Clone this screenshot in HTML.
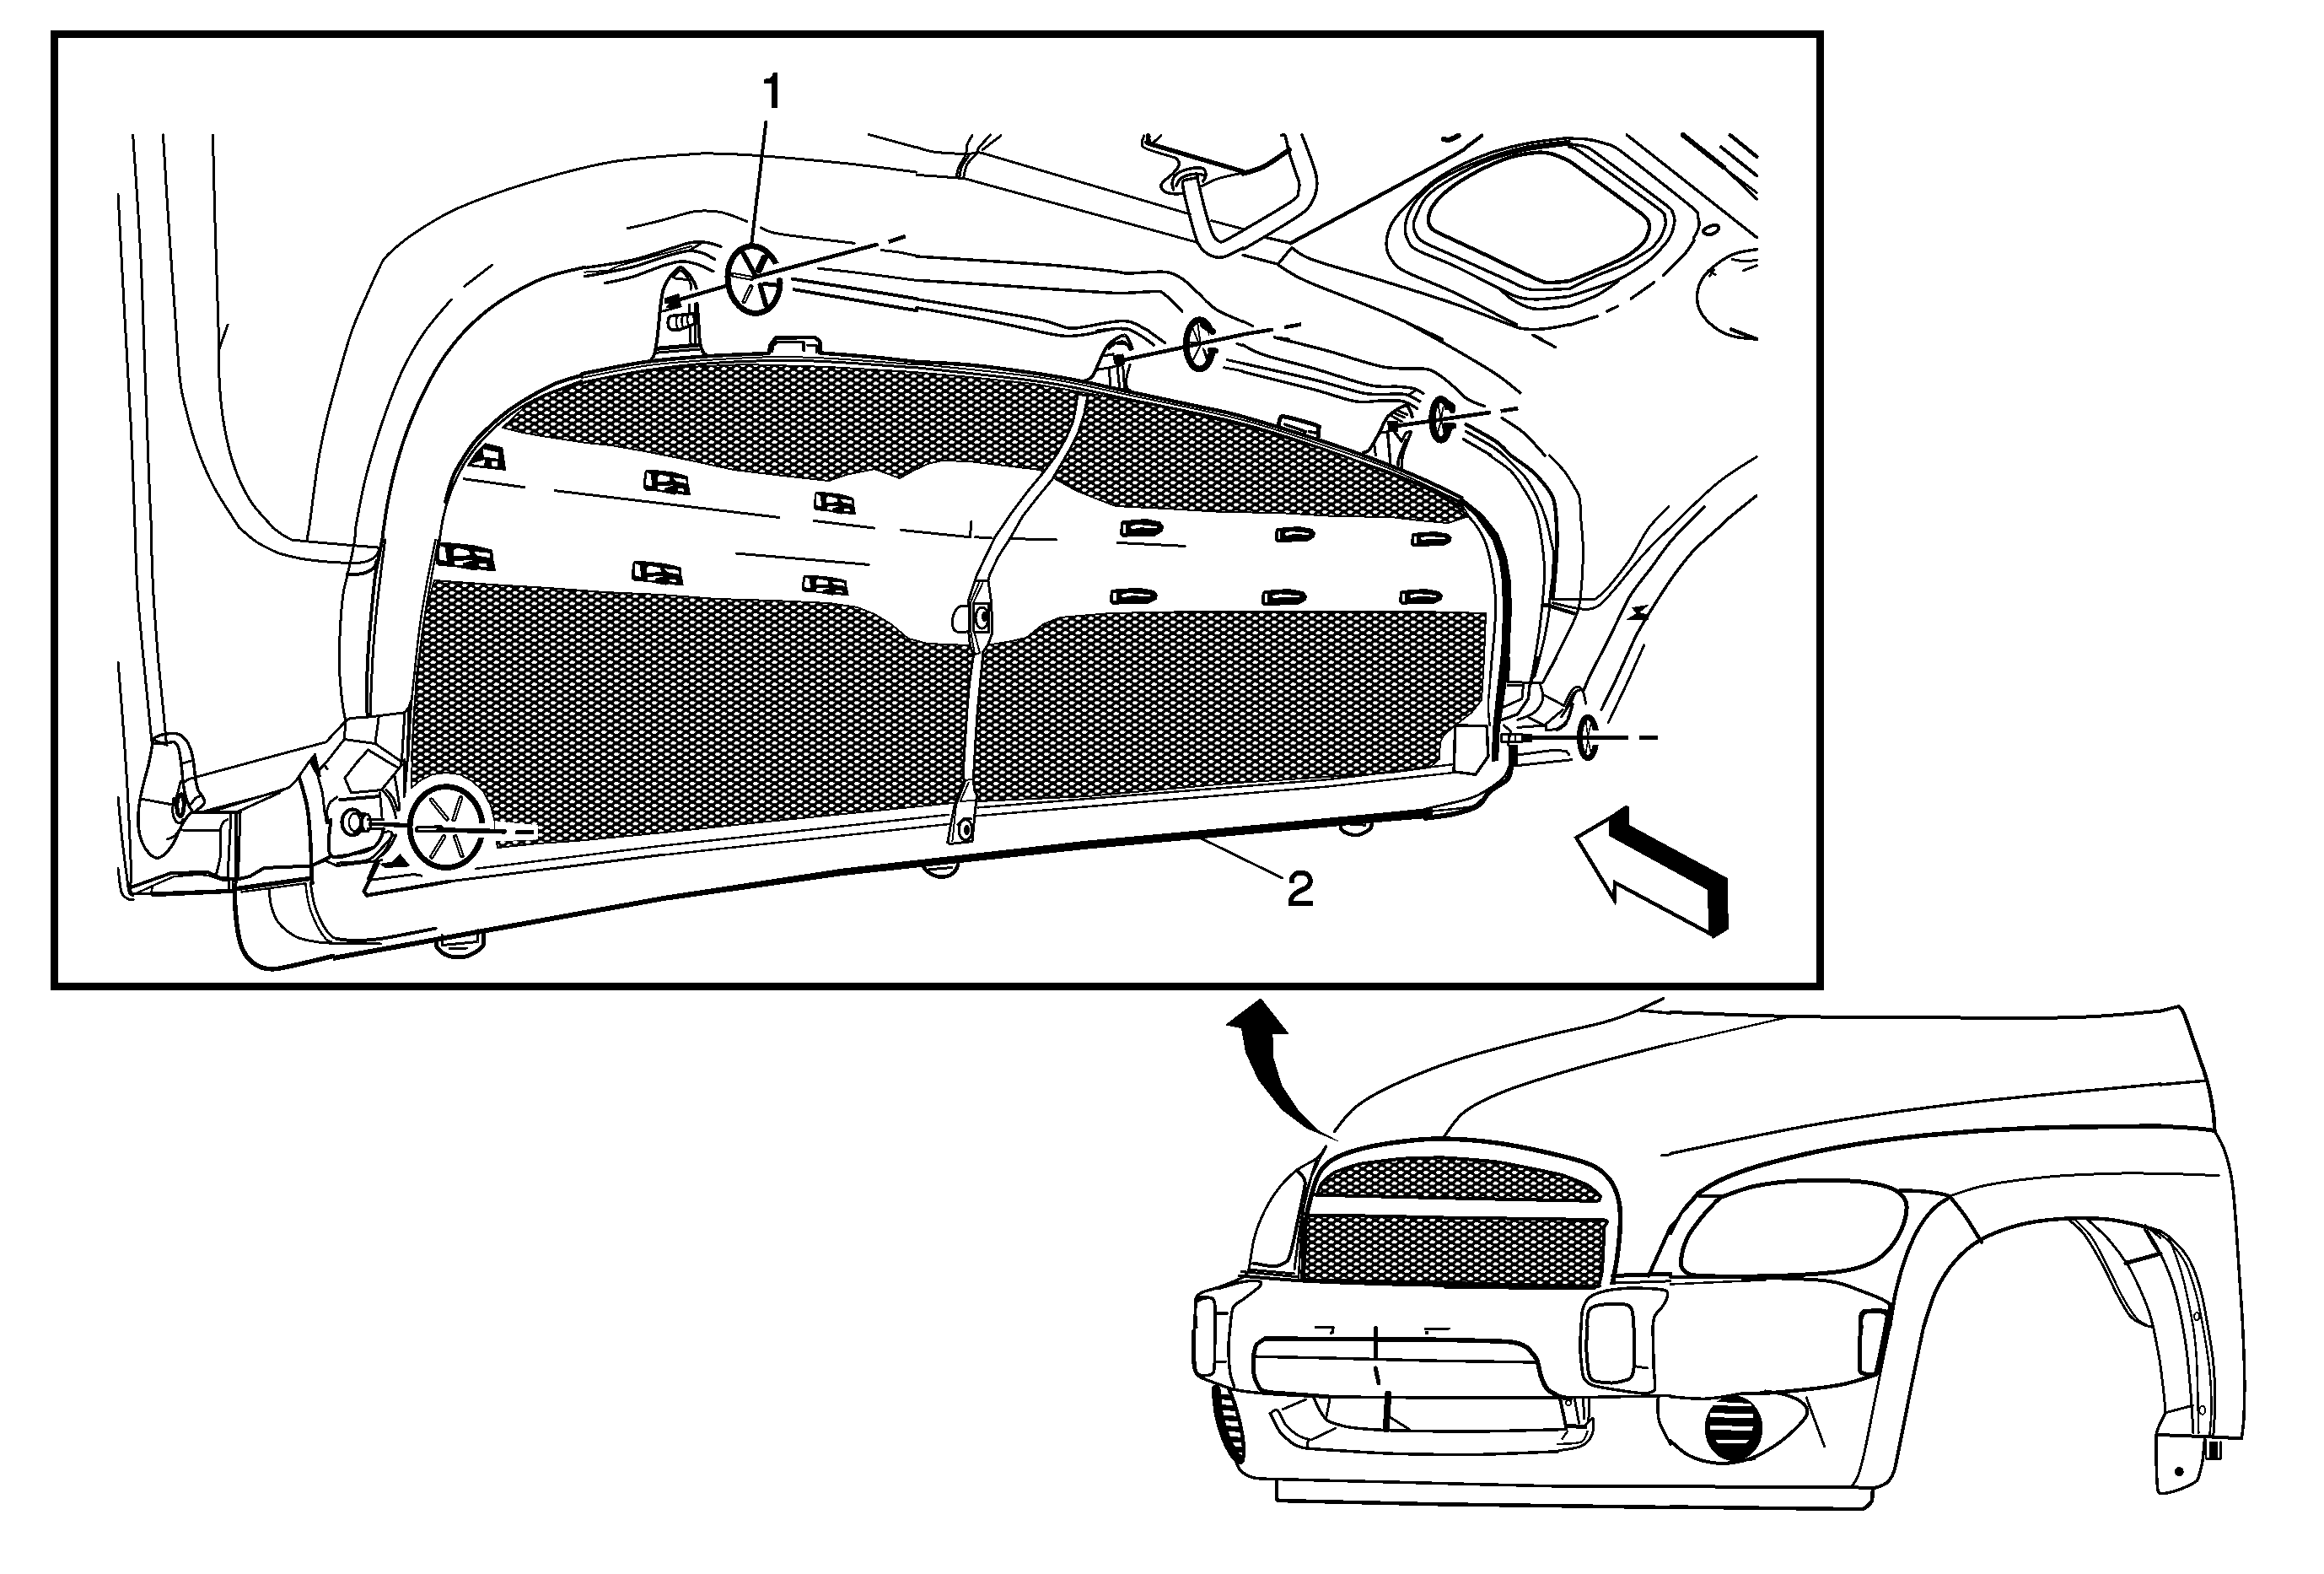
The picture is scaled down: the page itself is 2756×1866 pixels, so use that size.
<!DOCTYPE html>
<html><head><meta charset="utf-8"><title>Radiator grille</title>
<style>html,body{margin:0;padding:0;background:#fff}body{width:2756px;height:1866px;overflow:hidden;font-family:"Liberation Sans",sans-serif}svg{display:block}</style>
</head><body>
<svg width="2756" height="1866" viewBox="0 0 2756 1866" stroke-linecap="round" stroke-linejoin="round" shape-rendering="crispEdges">
<defs>
<pattern id="mesh" width="15" height="8.7" patternUnits="userSpaceOnUse">
<rect width="15" height="8.7" fill="#000"/>
<path d="M0.1 2.2 L2 0.4 L5.4 0.4 L7.3 2.2 L5.4 4 L2 4Z M7.6 6.55 L9.5 4.75 L12.9 4.75 L14.8 6.55 L12.9 8.35 L9.5 8.35Z" fill="#fff"/>
</pattern>
</defs>
<rect width="2756" height="1866" fill="#fff"/>
<rect x="64.5" y="40.5" width="2094" height="1129" fill="none" stroke="#000" stroke-width="9" stroke-linejoin="miter"/>
<path d="M140.0 230.7 C141.3 253.4 144.9 321.9 147.4 366.8 C149.9 411.7 152.9 457.2 155.0 500.2 C157.2 543.2 159.2 604.1 160.0 624.9" fill="none" stroke="#000" stroke-width="3" />
<path d="M157.7 160.0 C159.2 183.4 164.4 254.5 166.7 300.1 C169.0 345.7 170.0 389.0 171.7 433.5 C173.4 477.9 175.4 535.0 176.7 566.9 C178.0 598.8 178.9 615.2 179.4 624.9" fill="none" stroke="#000" stroke-width="3" />
<path d="M193.4 160.0 C194.5 177.8 197.6 229.5 200.1 266.7 C202.6 304.0 206.2 352.9 208.4 383.5 C210.6 414.0 211.5 433.5 213.4 450.2 C215.3 466.8 216.7 470.2 220.1 483.5 C223.4 496.8 227.8 514.6 233.4 530.2 C239.0 545.7 245.1 561.1 253.4 576.9 C261.8 592.7 278.4 616.9 283.4 624.9" fill="none" stroke="#000" stroke-width="3" />
<path d="M252.4 160.0 C252.9 177.8 253.9 226.7 255.1 266.7 C256.3 306.8 258.6 369.6 259.4 400.1 C260.3 430.7 259.1 433.5 260.1 450.2 C261.0 466.8 262.3 483.5 265.1 500.2 C267.9 516.8 271.5 534.6 276.8 550.2 C282.0 565.8 289.0 581.1 296.8 593.5 C304.5 606.0 319.0 619.7 323.4 624.9" fill="none" stroke="#000" stroke-width="3" />
<path d="M270.1 385.1 L259.4 415.1" fill="none" stroke="#000" stroke-width="3" />
<path d="M835.0 181.7 C817.0 183.4 761.6 185.9 727.0 191.7 C692.3 197.5 657.5 207.5 626.9 216.7 C596.3 225.9 565.8 237.0 543.5 246.7 C521.3 256.5 507.4 265.9 493.5 275.1 C479.6 284.2 467.4 294.8 460.2 301.8 C452.9 308.7 454.6 308.1 450.2 316.8 C445.7 325.4 439.1 340.7 433.5 353.4 C427.9 366.2 422.4 377.3 416.8 393.5 C411.3 409.6 405.1 432.4 400.1 450.2 C395.1 467.9 390.7 483.5 386.8 500.2 C382.9 516.8 380.1 529.4 376.8 550.2 C373.5 571.0 368.5 612.4 366.8 624.9" fill="none" stroke="#000" stroke-width="3" />
<path d="M583.6 314.1 L550.9 339.4" fill="none" stroke="#000" stroke-width="3" />
<path d="M535.2 355.1 C529.9 361.5 513.3 379.3 503.5 393.5 C493.8 407.6 485.2 422.4 476.8 440.1 C468.5 457.9 460.7 479.1 453.5 500.2 C446.3 521.3 438.8 546.1 433.5 566.9 C428.2 587.7 423.8 615.2 421.8 624.9" fill="none" stroke="#000" stroke-width="3" />
<path d="M693.6 316.8 C685.3 319.0 660.3 323.4 643.6 330.1 C626.9 336.8 607.5 347.9 593.6 356.8 C579.7 365.7 570.2 374.0 560.2 383.5 C550.2 392.9 541.9 402.4 533.5 413.5 C525.2 424.6 518.0 435.7 510.2 450.2 C502.4 464.6 493.5 483.5 486.9 500.2 C480.2 516.8 474.6 534.6 470.2 550.2 C465.7 565.8 462.7 581.1 460.2 593.5 C457.7 606.0 456.0 619.7 455.2 624.9" fill="none" stroke="#000" stroke-width="4" />
<path d="M596.0 507.0 L610.0 494.0 L623.0 482.0 L640.0 472.0 L657.0 465.0 L700.0 452.0 L750.0 442.0 L817.0 435.0 L883.0 432.0 L983.0 435.0 L1083.0 441.0 L1150.0 447.0 L1225.0 455.0 L1283.0 465.0 L1383.0 483.0 L1483.0 507.0 L1583.0 537.0 L1650.0 560.0 L1700.0 580.0 L1733.0 597.0 L1742.0 612.0 L1717.0 620.0 L1683.0 617.0 L1650.0 613.0 L1583.0 612.0 L1517.0 608.0 L1450.0 607.0 L1383.0 603.0 L1323.0 600.0 L1297.0 590.0 L1277.0 582.0 L1250.0 567.0 L1233.0 557.0 L1200.0 553.0 L1150.0 547.0 L1117.0 546.0 L1100.0 550.0 L1083.0 558.0 L1067.0 567.0 L1037.0 556.0 L1003.0 563.0 L983.0 570.0 L937.0 565.0 L870.0 557.0 L820.0 546.0 L770.0 536.0 L725.0 528.0 L695.0 525.0 L643.0 517.0 L620.0 513.0 L608.0 510.0Z" fill="url(#mesh)" stroke="#000" stroke-width="2" />
<path d="M515.0 688.0 L583.0 693.0 L650.0 697.0 L717.0 702.0 L783.0 705.0 L850.0 710.0 L917.0 712.0 L983.0 715.0 L1017.0 720.0 L1037.0 728.0 L1057.0 740.0 L1077.0 757.0 L1100.0 763.0 L1148.0 765.0 L1170.0 765.0 L1200.0 760.0 L1217.0 756.0 L1237.0 740.0 L1257.0 732.0 L1317.0 727.0 L1417.0 725.0 L1550.0 725.0 L1683.0 725.0 L1762.0 727.0 L1760.0 780.0 L1757.0 830.0 L1745.0 845.0 L1723.0 862.0 L1712.0 872.0 L1708.0 880.0 L1706.7 900.0 L1695.0 910.0 L1650.0 916.0 L1575.0 921.0 L1467.0 928.0 L1290.0 944.0 L1160.0 950.0 L1130.0 952.0 L1000.0 965.0 L900.0 975.0 L787.0 987.0 L683.0 997.0 L638.0 1000.0 L590.0 1005.0 L588.0 993.0 L587.0 975.0 L582.0 955.0 L573.0 938.0 L560.0 926.0 L545.0 918.0 L529.0 916.0 L513.0 918.0 L499.0 925.0 L488.0 934.0 L488.0 925.0 L490.0 866.0 L494.0 800.0 L503.0 733.0Z" fill="url(#mesh)" stroke="#000" stroke-width="2" />
<path d="M516.5 640.0 C514.8 648.3 509.6 673.3 506.5 690.0 C503.5 706.6 500.5 723.3 498.2 739.9 C495.8 756.6 494.2 773.2 492.4 789.9 C490.6 806.5 488.8 821.1 487.4 839.8 C486.0 858.5 484.6 891.7 484.0 902.1" fill="none" stroke="#000" stroke-width="2.5" />
<path d="M519.8 640.0 C518.3 648.3 513.6 673.3 510.7 690.0 C507.8 706.6 504.7 723.3 502.4 739.9 C500.0 756.6 498.3 773.2 496.5 789.9 C494.7 806.5 492.9 821.1 491.5 839.8 C490.1 858.5 488.8 891.7 488.2 902.1" fill="none" stroke="#000" stroke-width="2.5" />
<path d="M420.8 640.0 C420.1 643.6 418.1 654.4 416.6 661.6 C415.1 668.9 413.3 675.8 411.6 683.3 C409.9 690.8 408.0 695.8 406.6 706.6 C405.2 717.4 404.0 734.4 403.3 748.2 C402.6 762.1 402.0 776.0 402.4 789.9 C402.9 803.7 404.5 820.7 405.8 831.5 C407.0 842.3 409.2 850.9 409.9 854.8" fill="none" stroke="#000" stroke-width="3" />
<path d="M453.2 640.0 C452.5 643.6 450.5 654.4 449.1 661.6 C447.7 668.9 446.3 673.0 444.9 683.3 C443.5 693.6 442.1 708.3 440.7 723.3 C439.4 738.2 437.5 756.6 436.6 773.2 C435.6 789.9 435.0 810.4 434.9 823.2 C434.8 835.9 435.6 845.4 435.7 849.8" fill="none" stroke="#000" stroke-width="4" />
<path d="M456.6 640.0 C455.9 645.6 454.1 659.4 452.4 673.3 C450.7 687.2 448.2 706.6 446.6 723.3 C444.9 739.9 443.5 756.6 442.4 773.2 C441.3 789.9 440.5 810.4 439.9 823.2 C439.4 835.9 439.2 845.4 439.1 849.8" fill="none" stroke="#000" stroke-width="3" />
<path d="M345.8 640.0 C351.5 640.6 362.6 641.8 380.0 643.3 C397.3 644.9 438.2 648.2 449.9 649.2" fill="none" stroke="#000" stroke-width="3" />
<path d="M330.0 655.8 C335.6 657.1 348.9 661.4 363.3 663.3 C377.7 665.3 404.4 667.2 416.6 667.5 C428.8 667.8 431.6 666.5 436.6 665.0 C441.6 663.5 444.3 660.8 446.6 658.3 C448.8 655.8 449.3 651.4 449.9 650.0" fill="none" stroke="#000" stroke-width="3" />
<path d="M411.6 680.8 C414.6 680.7 424.6 681.2 429.9 680.0 C435.2 678.7 440.5 675.8 443.2 673.3 C446.0 670.8 446.0 666.4 446.6 665.0" fill="none" stroke="#000" stroke-width="4" />
<path d="M409.9 854.8 L414.9 851.5 L439.9 849.8 L479.9 844.8 L484.9 838.2 L487.4 831.5" fill="none" stroke="#000" stroke-width="3" />
<path d="M409.9 854.8 L386.6 879.8 L330.0 894.8" fill="none" stroke="#000" stroke-width="3" />
<path d="M409.9 854.8 L408.3 876.5 L388.3 902.1" fill="none" stroke="#000" stroke-width="3" />
<path d="M408.3 876.5 L444.9 881.5 L474.9 902.1" fill="none" stroke="#000" stroke-width="3" />
<path d="M424.9 902.1 L436.6 889.0 L458.2 902.1" fill="none" stroke="#000" stroke-width="3" />
<path d="M449.1 850.7 L444.9 881.5" fill="none" stroke="#000" stroke-width="3" />
<path d="M479.9 844.8 L476.5 902.1" fill="none" stroke="#000" stroke-width="3" />
<path d="M484.9 839.8 L483.2 902.1" fill="none" stroke="#000" stroke-width="3" />
<path d="M140.0 785.0 C140.8 795.3 143.2 822.5 145.0 846.6 C146.8 870.8 149.3 904.9 150.8 929.9 C152.3 954.8 153.3 977.8 154.1 996.5 C155.0 1015.2 155.5 1034.5 155.8 1042.1" fill="none" stroke="#000" stroke-width="3" />
<path d="M170.0 780.0 C170.8 788.3 173.3 813.6 175.0 830.0 C176.6 846.3 179.1 870.2 179.9 878.2" fill="none" stroke="#000" stroke-width="3" />
<path d="M187.4 780.0 C188.3 788.3 190.8 813.0 192.4 830.0 C194.1 846.9 196.6 873.0 197.4 881.6" fill="none" stroke="#000" stroke-width="3" />
<path d="M140.0 944.9 C140.8 953.5 143.2 980.3 145.0 996.5 C146.8 1012.7 149.8 1034.5 150.8 1042.1" fill="none" stroke="#000" stroke-width="3" />
<path d="M140.0 1029.8 L141.6 1042.1" fill="none" stroke="#000" stroke-width="3" />
<path d="M180.8 875.8 C182.9 874.9 188.4 871.7 193.3 870.8 C198.1 869.8 205.5 869.0 209.9 869.9 C214.4 870.9 217.1 873.3 219.9 876.6 C222.7 879.9 224.9 884.9 226.6 889.9 C228.2 894.9 229.1 901.3 229.9 906.6 C230.7 911.8 230.7 916.5 231.6 921.5 C232.4 926.5 233.4 932.6 234.9 936.5 C236.4 940.4 239.5 942.4 240.7 944.9 C242.0 947.4 242.7 949.7 242.4 951.5 C242.1 953.3 240.9 953.9 239.1 955.7 C237.3 957.5 232.8 961.2 231.6 962.3" fill="none" stroke="#000" stroke-width="3.5" />
<path d="M180.8 881.6 C183.7 881.4 194.0 881.0 198.3 880.7 C202.6 880.5 204.4 878.9 206.6 879.9 C208.8 880.9 210.3 883.2 211.6 886.6 C212.8 889.9 213.4 895.5 214.1 899.9 C214.8 904.3 215.2 908.2 215.8 913.2 C216.3 918.2 216.7 924.9 217.4 929.9 C218.1 934.9 218.8 939.0 219.9 943.2 C221.0 947.4 222.7 951.7 224.1 954.8 C225.5 958.0 227.5 961.1 228.2 962.3" fill="none" stroke="#000" stroke-width="3.5" />
<path d="M180.8 875.8 C180.8 876.7 181.5 876.7 180.8 881.6 C180.1 886.4 178.4 896.8 176.6 904.9 C174.8 912.9 171.9 921.5 170.0 929.9 C168.0 938.2 165.9 946.5 165.0 954.8 C164.0 963.2 163.6 972.6 164.1 979.8 C164.7 987.0 166.2 992.9 168.3 998.1 C170.4 1003.4 173.6 1008.3 176.6 1011.5 C179.7 1014.7 183.3 1017.3 186.6 1017.3 C189.9 1017.3 193.3 1014.7 196.6 1011.5 C199.9 1008.3 203.5 1003.4 206.6 998.1 C209.6 992.9 212.1 985.1 214.9 979.8 C217.7 974.6 221.0 969.4 223.2 966.5 C225.5 963.6 227.4 963.0 228.2 962.3" fill="none" stroke="#000" stroke-width="3.5" />
<path d="M180.8 876.6 L198.3 883.6" fill="none" stroke="#000" stroke-width="3" />
<path d="M216.6 904.9 L228.2 901.6" fill="none" stroke="#000" stroke-width="3" />
<path d="M217.4 928.2 C218.4 927.5 220.9 925.2 223.2 924.0 C225.6 922.9 230.2 922.0 231.6 921.5" fill="none" stroke="#000" stroke-width="3" />
<path d="M169.1 947.4 L204.9 954.0" fill="none" stroke="#000" stroke-width="3" />
<path d="M211.6 944.9 C212.6 942.8 214.6 941.0 215.8 942.4 C216.9 943.7 218.2 949.2 218.2 953.2 C218.2 957.2 216.9 964.4 215.8 966.5 C214.6 968.6 212.6 967.6 211.6 965.7 C210.6 963.7 209.9 958.3 209.9 954.8 C209.9 951.4 210.6 946.9 211.6 944.9Z" fill="none" stroke="#000" stroke-width="5" />
<path d="M205.8 946.5 C205.6 949.3 204.5 958.7 204.9 963.2 C205.3 967.6 206.9 971.1 208.3 973.2 C209.6 975.2 211.7 975.9 213.3 975.7 C214.8 975.4 216.7 972.2 217.4 971.5" fill="none" stroke="#000" stroke-width="3" />
<path d="M226.6 953.2 C227.4 952.1 229.9 948.0 231.6 946.5 C233.2 945.0 235.7 944.4 236.6 944.0" fill="none" stroke="#000" stroke-width="3" />
<path d="M198.3 994.8 C199.7 994.3 204.1 993.4 206.6 991.5 C209.1 989.5 212.1 984.5 213.3 983.2" fill="none" stroke="#000" stroke-width="3" />
<path d="M214.1 926.5 C213.5 928.8 212.0 935.4 210.8 939.9 C209.5 944.3 207.3 951.0 206.6 953.2" fill="none" stroke="#000" stroke-width="3" />
<path d="M231.6 921.5 L329.8 894.9" fill="none" stroke="#000" stroke-width="3" />
<path d="M243.2 961.5 L331.5 938.2 L343.1 933.2 L351.5 924.9 L366.5 903.2 L373.9 894.1" fill="none" stroke="#000" stroke-width="3" />
<path d="M253.2 961.5 L336.5 935.7" fill="none" stroke="#000" stroke-width="3" />
<path d="M278.2 964.0 L331.5 939.9" fill="none" stroke="#000" stroke-width="3" />
<path d="M227.4 962.7 L284.9 963.2" fill="none" stroke="#000" stroke-width="4" />
<path d="M216.6 984.0 L260.7 984.0" fill="none" stroke="#000" stroke-width="3" />
<path d="M269.9 971.5 C269.0 972.1 266.3 972.8 264.9 974.8 C263.5 976.9 262.1 977.6 261.5 984.0 C261.0 990.4 262.4 1004.4 261.5 1013.1 C260.7 1021.9 257.4 1032.6 256.5 1036.4" fill="none" stroke="#000" stroke-width="3" />
<path d="M274.0 964.8 L269.9 1042.1" fill="none" stroke="#000" stroke-width="3" />
<path d="M279.9 964.0 L279.9 1042.1" fill="none" stroke="#000" stroke-width="4" />
<path d="M284.9 963.2 L282.4 1042.1" fill="none" stroke="#000" stroke-width="3" />
<path d="M354.8 921.5 C355.6 924.3 358.1 931.8 359.8 938.2 C361.5 944.6 363.4 950.1 364.8 959.8 C366.2 969.6 367.3 982.8 368.1 996.5 C369.0 1010.2 369.5 1034.5 369.8 1042.1" fill="none" stroke="#000" stroke-width="4.5" />
<path d="M367.3 902.4 L373.9 894.9 L379.8 919.9 L377.3 921.5Z" fill="#000" stroke="#000" stroke-width="2" />
<path d="M377.3 921.5 C378.1 924.6 381.0 933.1 382.3 939.9 C383.5 946.7 384.4 958.6 384.8 962.3" fill="none" stroke="#000" stroke-width="3" />
<path d="M378.1 913.2 L388.1 902.4" fill="none" stroke="#000" stroke-width="3" />
<path d="M384.8 907.4 L388.1 911.6" fill="none" stroke="#000" stroke-width="3" />
<path d="M388.1 959.8 C388.7 958.5 389.5 954.0 391.4 951.5 C393.4 949.0 398.4 946.0 399.8 944.9" fill="none" stroke="#000" stroke-width="3" />
<path d="M386.4 962.3 L388.1 974.8" fill="none" stroke="#000" stroke-width="5" />
<path d="M474.7 902.1 L476.4 906.6 L471.4 913.2 L453.0 935.7" fill="none" stroke="#000" stroke-width="3" />
<path d="M424.7 902.1 L408.9 922.4 L416.4 939.9 L453.0 936.5" fill="none" stroke="#000" stroke-width="3" />
<path d="M458.0 902.1 L473.0 910.7" fill="none" stroke="#000" stroke-width="3" />
<path d="M476.4 902.1 L475.5 906.6" fill="none" stroke="#000" stroke-width="3" />
<path d="M483.0 902.1 L479.7 944.0" fill="none" stroke="#000" stroke-width="3" />
<path d="M468.0 919.9 C468.6 923.2 470.4 933.5 471.4 939.9 C472.3 946.2 473.7 954.7 473.9 958.2 C474.0 961.6 472.5 960.3 472.2 960.7" fill="none" stroke="#000" stroke-width="3" />
<path d="M453.0 936.5 C454.4 938.2 459.0 942.6 461.4 946.5 C463.7 950.4 465.8 956.0 467.2 959.8 C468.6 963.7 469.3 968.2 469.7 969.8" fill="none" stroke="#000" stroke-width="3" />
<path d="M458.0 936.5 C459.4 938.2 464.1 942.5 466.4 946.5 C468.6 950.5 470.5 958.3 471.4 960.7" fill="none" stroke="#000" stroke-width="3" />
<path d="M403.1 948.2 L450.5 944.0" fill="none" stroke="#000" stroke-width="4" />
<path d="M450.5 939.9 L453.0 968.2" fill="none" stroke="#000" stroke-width="3" />
<path d="M392.3 971.5 C392.4 978.7 385.7 1009.0 393.1 1014.8 C400.5 1020.6 427.5 1008.7 436.4 1006.5 C445.3 1004.3 443.6 1004.3 446.4 1001.5 C449.2 998.7 451.7 993.0 453.0 989.8 C454.4 986.6 454.4 983.6 454.7 982.3" fill="none" stroke="#000" stroke-width="4" />
<path d="M393.1 1014.8 L369.8 1026.5 L313.2 1029.0 L296.5 1038.9 L283.2 1042.1" fill="none" stroke="#000" stroke-width="4" />
<g transform="translate(120,780) scale(0.16652)" fill="none" stroke="#000">
<ellipse cx="1790" cy="1170" rx="75" ry="92" stroke-width="26" fill="#fff"/>
<ellipse cx="1805" cy="1170" rx="40" ry="62" stroke-width="14"/>
<path d="M1800 1105 L1900 1112 M1800 1238 L1900 1235" stroke-width="18"/>
<ellipse cx="1890" cy="1175" rx="32" ry="60" stroke-width="18" fill="#fff"/>
<path d="M1900 1150 L2010 1150 M1900 1215 L2010 1215" stroke-width="18"/>
<rect x="1905" y="1172" width="105" height="26" fill="#000" stroke="none"/>
<path d="M2020 1185 L2180 1195" stroke-width="30"/>
<path d="M2130 1395 L2200 1480 L2030 1490Z" fill="#000" stroke="none"/>
</g>
<path d="M454.7 986.5 C456.4 986.6 463.9 984.5 464.7 987.3 C465.5 990.1 461.7 998.8 459.7 1003.1 C457.8 1007.4 455.3 1010.4 453.0 1013.1 C450.8 1015.9 449.2 1015.0 446.4 1019.8 C443.6 1024.6 438.1 1038.4 436.4 1042.1" fill="none" stroke="#000" stroke-width="3" />
<path d="M469.7 989.8 C468.6 992.0 465.5 999.3 463.0 1003.1 C460.5 1007.0 456.1 1011.5 454.7 1013.1" fill="none" stroke="#000" stroke-width="3" />
<path d="M369.8 1026.5 L386.4 1019.8 L393.1 1014.8" fill="none" stroke="#000" stroke-width="3" />
<path d="M386.4 1020.6 L399.8 1026.5 L453.0 1019.8" fill="none" stroke="#000" stroke-width="3" />
<g transform="translate(400,900) scale(0.16652)" fill="none" stroke="#000">
<path d="M1125 440 L1430 470 L1430 572 L1125 585Z" fill="#fff" stroke="none"/>
<ellipse cx="775" cy="484" rx="258" ry="288" stroke-width="40"/>
<path d="M1000 458 L1090 458 L1090 560 L1000 560Z" fill="#fff" stroke="none"/>
<path d="M670 290 L780 425 M880 275 L830 430 M760 552 L672 695 M840 552 L888 688" stroke-width="34"/>
<path d="M672 292 L778 423 M879 280 L832 426 M757 557 L675 690 M843 557 L885 683" stroke-width="8" stroke="#fff"/>
<path d="M575 500 L1190 515" stroke-width="34"/>
<path d="M575 500 L735 495" stroke-width="50"/>
<path d="M585 500 L700 497" stroke-width="14" stroke="#fff"/>
<path d="M1270 520 L1400 522" stroke-width="30" stroke-linecap="butt"/>
<path d="M340 465 L490 470" stroke-width="30" stroke-linecap="butt"/>
<path d="M450 680 L510 765 L340 775 L300 745 L440 722Z" fill="#000" stroke="none"/>
</g>
<path d="M564.0 1029.9 L787.0 1002.4" fill="none" stroke="#000" stroke-width="2.5" />
<path d="M448.3 1023.2 L431.6 1056.5 L435.0 1061.5 L533.2 1044.9 L787.0 1013.2" fill="none" stroke="#000" stroke-width="3" />
<path d="M448.3 1023.2 L431.6 1056.5 L435.0 1061.5 L533.2 1044.9" fill="none" stroke="#000" stroke-width="4.5" />
<path d="M440.0 1043.2 L490.8 1036.5 L499.9 1038.2" fill="none" stroke="#000" stroke-width="3" />
<path d="M400.0 1113.1 C402.8 1113.4 408.3 1114.8 416.7 1114.8 C425.0 1114.8 433.3 1115.5 450.0 1113.1 C466.6 1110.8 505.5 1102.7 516.6 1100.7" fill="none" stroke="#000" stroke-width="4" />
<path d="M517.4 1114.0 C517.5 1115.5 515.9 1119.9 518.2 1123.1 C520.6 1126.3 526.3 1131.2 531.6 1133.1 C536.8 1135.0 544.3 1135.3 549.9 1134.5 C555.4 1133.6 561.0 1130.6 564.9 1128.1 C568.7 1125.7 571.7 1124.0 573.2 1119.8 C574.6 1115.6 573.5 1105.9 573.5 1103.2" fill="none" stroke="#000" stroke-width="5" />
<path d="M524.1 1108.2 L524.1 1120.6 L566.5 1116.5 L566.9 1102.3" fill="none" stroke="#000" stroke-width="3" />
<path d="M533.2 1124.5 L554.0 1124.0" fill="none" stroke="#000" stroke-width="3" />
<path d="M479.9 900.0 L479.1 945.0" fill="none" stroke="#000" stroke-width="3" />
<path d="M400.0 1014.9 C405.6 1014.1 425.3 1012.4 433.3 1009.9 C441.4 1007.4 444.7 1003.8 448.3 999.9 C451.9 996.0 453.8 988.8 455.0 986.6" fill="none" stroke="#000" stroke-width="3" />
<path d="M400.0 1023.2 C405.8 1022.7 426.6 1022.4 435.0 1019.9 C443.3 1017.4 444.7 1013.2 450.0 1008.2 C455.2 1003.2 463.8 993.0 466.6 989.9" fill="none" stroke="#000" stroke-width="3" />
<path d="M787.0 1002.5 L1125.1 965.8" fill="none" stroke="#000" stroke-width="2.5" />
<path d="M787.0 1013.5 L1126.8 976.8" fill="none" stroke="#000" stroke-width="2.5" />
<path d="M1159.5 957.4 L1575.0 924.1 L1723.4 906.1" fill="none" stroke="#000" stroke-width="2.5" />
<path d="M1156.2 967.4 L1575.0 932.4 L1747.1 913.4" fill="none" stroke="#000" stroke-width="2.5" />
<path d="M1093.5 1025.1 C1094.6 1026.5 1096.8 1031.1 1100.1 1033.5 C1103.5 1035.9 1109.0 1038.8 1113.5 1039.5 C1117.9 1040.1 1123.2 1039.3 1126.8 1037.5 C1130.4 1035.6 1133.6 1031.3 1135.1 1028.5 C1136.7 1025.7 1136.0 1022.1 1136.1 1020.8" fill="none" stroke="#000" stroke-width="4.5" />
<path d="M1101.8 1030.8 L1128.5 1028.5" fill="none" stroke="#000" stroke-width="3" />
<path d="M1423.6 993.5 L1520.3 1040.8" fill="none" stroke="#000" stroke-width="3" />
<path d="M1278.0 467.5 L1276.0 481.0 L1272.5 500.0 L1263.8 520.0 L1252.5 540.0 L1237.5 560.0 L1220.0 581.0 L1200.0 607.5 L1180.0 636.8 L1168.8 660.0 L1158.8 681.0 L1156.0 688.8 L1148.0 713.8 L1148.8 750.0 L1150.6 766.0 L1154.4 777.0 L1149.5 810.0 L1147.0 840.0 L1144.5 877.5 L1142.0 921.0 L1143.8 925.0 L1132.5 952.5 L1127.5 977.5 L1123.8 998.8 L1126.0 1000.6 L1153.0 997.5 L1156.0 965.0 L1158.5 942.5 L1156.0 937.5 L1154.5 927.5 L1154.5 921.0 L1157.0 877.5 L1159.5 840.0 L1162.5 810.0 L1166.0 772.5 L1171.9 763.8 L1176.9 750.0 L1175.6 713.8 L1171.9 688.8 L1173.8 681.0 L1183.8 660.0 L1198.8 636.8 L1212.5 612.5 L1230.0 590.0 L1247.5 568.8 L1267.5 535.0 L1278.8 512.5 L1286.0 490.0 L1290.0 468.8Z" fill="#fff" stroke="#000" stroke-width="3" />
<path d="M1147.5 718.8 C1146.0 718.8 1141.3 717.8 1138.8 718.8 C1136.3 719.8 1134.1 722.3 1132.5 725.0 C1130.9 727.7 1129.7 731.7 1129.4 735.0 C1129.1 738.3 1129.5 742.6 1130.6 745.0 C1131.7 747.4 1133.1 748.8 1136.0 749.4 C1138.9 750.0 1146.0 748.9 1148.0 748.8" fill="#fff" stroke="#000" stroke-width="3" />
<path d="M1154.4 715.0 L1172.5 715.0 L1173.0 750.0 L1155.0 749.4Z" fill="none" stroke="#000" stroke-width="3" />
<ellipse cx="1164.5" cy="732.5" rx="7.5" ry="12.5" fill="none" stroke="#000" stroke-width="3"/>
<ellipse cx="1167.5" cy="731" rx="3.5" ry="6" fill="#000"/>
<path d="M1156.0 688.8 L1172.0 688.8" fill="none" stroke="#000" stroke-width="3" />
<path d="M1161.0 691.0 L1150.6 715.0" fill="none" stroke="#000" stroke-width="2" />
<path d="M1165.6 691.0 L1154.0 715.0" fill="none" stroke="#000" stroke-width="2" />
<path d="M1151.0 715.0 L1151.5 750.0 L1156.0 776.0 L1162.0 774.0 L1155.6 750.0" fill="none" stroke="#000" stroke-width="2" />
<path d="M1143.8 925.0 L1153.0 924.0" fill="none" stroke="#000" stroke-width="2" />
<path d="M1148.8 927.5 L1138.8 950.0 L1155.6 948.8" fill="none" stroke="#000" stroke-width="2" />
<path d="M1145.0 926.0 L1133.8 955.0 L1129.4 997.5" fill="none" stroke="#000" stroke-width="2" />
<ellipse cx="1145" cy="983.8" rx="8" ry="12" fill="none" stroke="#000" stroke-width="3"/>
<ellipse cx="1146.5" cy="984" rx="3.5" ry="6" fill="#000"/>
<path d="M1135.6 977.5 L1142.5 970.6 L1152.0 970.6" fill="none" stroke="#000" stroke-width="2.5" />
<path d="M1733.3 590.0 L1758.2 609.9 L1776.6 633.3 L1786.5 659.9 L1791.5 689.9 L1792.4 723.2 L1790.7 756.5 L1789.0 802.1 L1778.2 802.1 L1781.6 756.5 L1782.4 723.2 L1781.6 689.9 L1778.2 664.9 L1769.9 639.9 L1749.9 611.6 L1729.9 593.3Z" fill="#000" stroke="#000" stroke-width="1" />
<path d="M1650.0 562.5 C1656.9 565.3 1678.3 572.5 1691.6 579.1 C1705.0 585.8 1720.5 595.6 1729.9 602.4 C1739.4 609.2 1743.0 613.1 1748.2 619.9 C1753.5 626.7 1758.1 634.4 1761.6 643.2 C1765.0 652.1 1767.1 662.7 1769.1 673.2 C1771.0 683.8 1772.6 695.4 1773.2 706.5 C1773.9 717.6 1773.4 728.7 1772.9 739.8 C1772.3 750.9 1770.8 762.8 1769.9 773.1 C1769.0 783.5 1767.8 797.3 1767.4 802.1" fill="none" stroke="#000" stroke-width="3" />
<path d="M1766.6 540.0 C1770.7 543.1 1784.6 551.4 1791.5 558.3 C1798.5 565.3 1803.2 573.6 1808.2 581.6 C1813.2 589.7 1818.2 596.9 1821.5 606.6 C1824.8 616.3 1826.5 628.8 1828.2 639.9 C1829.8 651.0 1831.1 663.5 1831.5 673.2 C1831.9 682.9 1831.5 687.1 1830.7 698.2 C1829.8 709.3 1828.0 727.3 1826.5 739.8 C1825.0 752.3 1823.2 762.8 1821.5 773.1 C1819.9 783.5 1817.4 797.3 1816.5 802.1" fill="none" stroke="#000" stroke-width="3" />
<path d="M1783.2 540.0 C1787.4 544.2 1801.5 556.7 1808.2 565.0 C1814.9 573.3 1819.0 581.6 1823.2 590.0 C1827.3 598.3 1830.4 606.1 1833.2 614.9 C1836.0 623.8 1838.3 636.9 1839.8 643.2 C1841.4 649.6 1841.9 651.6 1842.3 653.2" fill="none" stroke="#000" stroke-width="3" />
<path d="M1842.3 653.2 C1842.2 658.0 1842.2 672.7 1841.5 681.5 C1840.8 690.4 1838.9 699.6 1838.2 706.5 C1837.5 713.5 1838.4 714.8 1837.3 723.2 C1836.2 731.5 1833.9 745.4 1831.5 756.5 C1829.2 767.6 1825.1 782.2 1823.2 789.8 C1821.2 797.4 1820.4 800.1 1819.9 802.1" fill="none" stroke="#000" stroke-width="3" />
<path d="M1791.5 540.0 C1795.7 543.1 1809.6 552.2 1816.5 558.3 C1823.5 564.4 1829.0 571.4 1833.2 576.6 C1837.3 581.9 1839.6 585.0 1841.5 590.0 C1843.4 595.0 1844.0 598.3 1844.8 606.6 C1845.7 614.9 1846.5 628.8 1846.5 639.9 C1846.5 651.0 1845.7 661.6 1844.8 673.2 C1844.0 684.9 1842.1 703.7 1841.5 709.9" fill="none" stroke="#000" stroke-width="4.5" />
<path d="M1837.3 540.0 C1840.3 543.1 1850.0 552.2 1854.8 558.3 C1859.7 564.4 1863.4 571.4 1866.5 576.6 C1869.5 581.9 1871.8 583.6 1873.1 590.0 C1874.5 596.3 1874.1 605.2 1874.8 614.9 C1875.5 624.6 1877.0 637.1 1877.3 648.2 C1877.6 659.3 1877.0 671.3 1876.5 681.5 C1875.9 691.8 1874.8 702.9 1874.0 709.9 C1873.1 716.8 1873.0 718.2 1871.5 723.2 C1869.9 728.2 1868.4 732.1 1864.8 739.8 C1861.2 747.6 1855.1 759.4 1849.8 769.8 C1844.6 780.2 1836.0 796.7 1833.2 802.1" fill="none" stroke="#000" stroke-width="3" />
<path d="M1841.5 710.2 C1849.0 710.3 1877.3 711.3 1886.5 710.7 C1895.6 710.1 1892.6 709.4 1896.5 706.5 C1900.3 703.6 1903.7 700.4 1909.8 693.2 C1915.9 686.0 1925.6 674.3 1933.1 663.2 C1940.6 652.1 1947.1 637.0 1954.7 626.6 C1962.4 616.2 1974.9 605.1 1978.9 600.8" fill="none" stroke="#000" stroke-width="3" />
<path d="M1841.5 714.8 C1846.5 716.0 1863.7 720.4 1871.5 721.5 C1879.2 722.6 1883.4 722.6 1888.1 721.5 C1892.8 720.4 1895.1 719.0 1899.8 714.8 C1904.5 710.7 1908.1 706.2 1916.4 696.5 C1924.8 686.8 1938.6 668.8 1949.7 656.6 C1960.8 644.4 1968.5 637.3 1983.0 623.3 C1997.6 609.2 2020.3 586.1 2037.0 572.5 C2053.7 558.9 2075.3 546.8 2083.0 541.7" fill="none" stroke="#000" stroke-width="3" />
<path d="M1829.8 717.3 L1838.2 717.8" fill="none" stroke="#000" stroke-width="4.5" />
<path d="M1839.8 719.0 L1866.5 727.3" fill="none" stroke="#000" stroke-width="4.5" />
<path d="M2021.3 600.8 C2015.0 607.3 1993.6 627.8 1983.0 639.9 C1972.5 652.0 1966.4 662.1 1958.1 673.2 C1949.7 684.3 1940.0 695.4 1933.1 706.5 C1926.2 717.6 1922.0 728.7 1916.4 739.8 C1910.9 750.9 1905.1 762.8 1899.8 773.1 C1894.5 783.5 1887.3 797.3 1884.8 802.1" fill="none" stroke="#000" stroke-width="3.5" />
<path d="M2082.6 588.0 C2077.1 592.4 2057.3 608.2 2049.7 614.6 C2042.1 621.0 2043.9 620.2 2037.0 626.6 C2030.1 633.0 2017.0 643.5 2008.0 653.2 C1999.0 662.9 1991.4 673.2 1983.0 684.9 C1974.7 696.5 1965.0 712.1 1958.1 723.2 C1951.1 734.3 1946.1 742.6 1941.4 751.5 C1936.7 760.4 1933.6 768.0 1929.8 776.5 C1925.9 784.9 1920.0 797.8 1918.1 802.1" fill="none" stroke="#000" stroke-width="3.5" />
<path d="M1949.7 764.8 L1933.1 802.1" fill="none" stroke="#000" stroke-width="3" />
<path d="M1935.6 720.7 L1954.7 717.3 L1943.1 726.5 L1954.7 729.0 L1954.7 734.8 L1928.9 734.8 L1941.4 727.3Z" fill="#000" stroke="#000" stroke-width="1" />
<path d="M1725.8 859.9 L1763.2 860.8 L1764.9 896.6 L1749.9 918.2 L1724.1 914.9Z" fill="#fff" stroke="#000" stroke-width="3.5" />
<path d="M1779.9 780.0 L1789.9 780.0 L1783.2 830.0 L1778.2 863.3 L1776.6 901.6 L1769.1 902.4 L1770.7 863.3 L1774.1 830.0Z" fill="#000" stroke="#000" stroke-width="1" />
<path d="M1769.1 780.0 C1768.6 785.6 1767.3 803.9 1766.6 813.3 C1765.9 822.7 1764.9 828.8 1764.9 836.6 C1764.9 844.4 1766.3 856.0 1766.6 859.9" fill="none" stroke="#000" stroke-width="2.5" />
<path d="M1690.0 969.8 C1695.8 969.0 1714.4 967.3 1724.9 964.8 C1735.5 962.3 1746.3 959.3 1753.2 954.8 C1760.2 950.4 1761.0 943.2 1766.6 938.2 C1772.1 933.2 1782.4 929.0 1786.5 924.9 C1790.7 920.7 1790.4 917.9 1791.5 913.2 C1792.7 908.5 1792.9 899.3 1793.2 896.6" fill="none" stroke="#000" stroke-width="6" />
<path d="M1690.0 959.5 C1691.6 959.1 1691.1 959.0 1700.0 956.8 C1708.8 954.7 1732.4 950.0 1743.3 946.5 C1754.1 943.0 1758.2 939.9 1764.9 935.7 C1771.6 931.5 1779.1 926.1 1783.2 921.5 C1787.4 917.0 1788.8 910.4 1789.9 908.2" fill="none" stroke="#000" stroke-width="3" />
<path d="M1698.3 961.5 C1705.8 960.7 1733.5 958.7 1743.3 956.5 C1753.0 954.3 1753.0 951.0 1756.6 948.2 C1760.2 945.4 1763.5 941.2 1764.9 939.9" fill="none" stroke="#000" stroke-width="2.5" />
<g transform="translate(1650,780) scale(0.16652)" fill="none" stroke="#000">
<rect x="785" y="545" width="150" height="52" fill="#fff" stroke-width="16"/>
<path d="M835 545 V597 M885 545 V597" stroke-width="12"/>
<rect x="935" y="538" width="70" height="64" fill="#000" stroke="none"/>
<path d="M1005 568 L1685 568" stroke-width="32" stroke-linecap="butt"/>
<path d="M1765 568 L1895 568" stroke-width="32" stroke-linecap="butt"/>
<ellipse cx="1400" cy="567" rx="58" ry="145" stroke-width="42"/>
<rect x="1425" y="518" width="80" height="100" fill="#fff" stroke="none"/>
<path d="M1005 568 L1685 568" stroke-width="32" stroke-linecap="butt"/>
<path d="M1385 450 L1400 560 M1420 470 L1400 560 M1400 580 L1385 680 M1400 580 L1420 670" stroke-width="10"/>
<rect x="835" y="620" width="65" height="140" fill="#000" stroke="none"/>
</g>
<path d="M1789.9 780.0 L1788.2 808.3 L1829.0 810.0 L1845.7 780.0" fill="none" stroke="#000" stroke-width="3" />
<path d="M1833.2 802.3 L1829.0 810.0" fill="none" stroke="#000" stroke-width="3" />
<path d="M1823.2 780.0 L1814.9 810.0" fill="none" stroke="#000" stroke-width="4.5" />
<path d="M1788.2 812.5 L1806.5 812.5 L1804.9 828.3 L1783.2 838.3" fill="none" stroke="#000" stroke-width="3" />
<path d="M1814.0 812.5 L1812.4 828.3 L1799.9 846.6 L1781.6 853.3" fill="none" stroke="#000" stroke-width="3.5" />
<path d="M1826.5 811.6 C1827.1 813.9 1829.8 820.8 1829.8 825.0 C1829.8 829.1 1828.7 833.0 1826.5 836.6 C1824.3 840.2 1821.0 843.8 1816.5 846.6 C1812.1 849.4 1802.6 852.2 1799.9 853.3" fill="none" stroke="#000" stroke-width="3" />
<path d="M1829.8 823.3 L1854.8 836.6" fill="none" stroke="#000" stroke-width="3" />
<path d="M1813.2 850.8 L1831.5 859.9 L1853.2 841.6" fill="none" stroke="#000" stroke-width="3" />
<path d="M1799.9 862.4 L1833.2 859.9 L1833.2 865.8 L1849.8 864.1 L1857.3 858.3" fill="none" stroke="#000" stroke-width="3" />
<path d="M1854.8 836.6 C1856.2 833.8 1860.5 823.7 1863.1 820.0 C1865.8 816.2 1868.3 814.1 1870.6 814.1 C1873.0 814.1 1875.6 816.6 1877.3 820.0 C1879.0 823.3 1880.1 831.8 1880.6 834.1" fill="none" stroke="#000" stroke-width="3" />
<path d="M1857.3 838.3 C1858.8 835.5 1863.8 825.0 1866.5 821.6 C1869.1 818.3 1872.0 818.9 1873.1 818.3" fill="none" stroke="#000" stroke-width="3" />
<path d="M1851.5 849.9 C1853.2 847.4 1858.7 839.7 1861.5 835.0 C1864.3 830.2 1867.0 823.9 1868.1 821.6" fill="none" stroke="#000" stroke-width="3" />
<path d="M1864.8 835.0 C1863.7 838.3 1861.2 849.9 1858.2 854.9 C1855.1 859.9 1848.4 863.3 1846.5 864.9" fill="none" stroke="#000" stroke-width="4" stroke-dasharray="4 3" />
<path d="M1884.8 802.3 L1877.3 820.0" fill="none" stroke="#000" stroke-width="3.5" />
<path d="M1918.1 802.3 L1899.0 841.6" fill="none" stroke="#000" stroke-width="3.5" />
<path d="M1933.1 802.3 L1907.3 856.6" fill="none" stroke="#000" stroke-width="3" />
<path d="M1800.7 894.9 L1839.8 889.6 L1857.3 890.2 L1860.7 894.6" fill="none" stroke="#000" stroke-width="3" />
<path d="M1793.2 908.2 L1800.7 907.4 L1864.0 900.7" fill="none" stroke="#000" stroke-width="3" />
<path d="M1783.2 859.9 L1791.5 866.6 L1788.2 883.2" fill="none" stroke="#000" stroke-width="3" />
<path d="M395.0 1133.5 L787.0 1062.5 L1000.0 1030.0 L1290.0 997.0 L1400.0 987.0 L1650.0 963.0 L1698.0 958.0 L1698.0 969.0 L1650.0 973.0 L1400.0 996.0 L1290.0 1006.0 L1000.0 1037.5 L787.0 1067.5 L395.0 1138.5Z" fill="#000" stroke="#000" stroke-width="1" />
<path d="M1590.0 977.0 C1590.2 978.1 1589.3 981.8 1591.0 983.8 C1592.7 985.8 1596.8 987.8 1600.0 988.8 C1603.2 989.8 1606.7 990.5 1610.0 990.0 C1613.3 989.5 1617.3 987.5 1620.0 986.0 C1622.7 984.5 1624.8 983.2 1626.0 981.0 C1627.2 978.8 1626.8 974.3 1627.0 973.0" fill="none" stroke="#000" stroke-width="4.5" />
<path d="M1597.0 973.0 L1597.5 977.0 L1619.0 978.5 L1619.0 969.0" fill="none" stroke="#000" stroke-width="2.5" />
<path d="M690.0 443.5 C691.7 443.1 687.2 443.6 700.0 441.2 C712.8 438.7 743.6 432.1 766.6 429.0 C789.6 425.9 814.1 424.0 838.2 422.3 C862.4 420.7 899.3 419.6 911.5 419.0" fill="none" stroke="#000" stroke-width="4.5" />
<path d="M973.1 418.5 C983.1 419.3 1014.1 421.4 1033.0 423.2 C1052.0 424.9 1078.0 428.0 1087.0 429.0" fill="none" stroke="#000" stroke-width="4.5" />
<path d="M690.0 448.1 C691.7 447.8 687.2 448.4 700.0 446.0 C712.8 443.5 744.4 436.6 766.6 433.5 C788.8 430.4 808.2 429.1 833.2 427.3 C858.2 425.6 891.5 423.6 916.5 423.2 C941.5 422.8 954.7 423.3 983.1 424.8 C1011.5 426.4 1069.7 431.1 1087.0 432.3" fill="none" stroke="#000" stroke-width="2" />
<path d="M690.0 454.0 C691.7 453.6 687.2 454.0 700.0 451.5 C712.8 449.0 743.0 442.5 766.6 439.0 C790.2 435.5 813.8 432.6 841.5 430.7 C869.3 428.7 906.8 427.5 933.1 427.3 C959.5 427.2 974.1 428.4 999.7 429.8 C1025.4 431.3 1072.5 435.0 1087.0 436.0" fill="none" stroke="#000" stroke-width="3" />
<path d="M771.6 428.2 C772.4 426.5 775.2 423.4 776.6 418.2 C778.0 412.9 778.8 405.7 779.9 396.5 C781.0 387.4 782.2 372.1 783.3 363.2 C784.4 354.3 784.9 348.8 786.6 343.2 C788.3 337.7 790.5 333.9 793.3 329.9 C796.0 325.9 800.7 321.2 803.2 319.1 C805.7 317.0 806.0 316.5 808.2 317.4 C810.5 318.4 814.1 322.0 816.6 324.9 C819.1 327.8 821.7 332.1 823.2 334.9 C824.8 337.7 825.3 340.5 825.7 341.6" fill="none" stroke="#000" stroke-width="4" />
<path d="M798.2 328.2 C799.6 327.0 803.8 320.8 806.6 320.8 C809.4 320.8 812.8 325.6 814.9 328.2 C817.0 330.9 818.4 334.1 819.1 336.6 C819.8 339.1 819.1 342.1 819.1 343.2" fill="none" stroke="#000" stroke-width="3" />
<path d="M799.9 329.9 L814.9 331.6" fill="none" stroke="#000" stroke-width="3" />
<path d="M826.6 359.9 C826.8 363.2 827.7 372.4 828.2 379.9 C828.8 387.4 829.1 398.7 829.9 404.8 C830.7 411.0 831.8 413.7 833.2 416.5 C834.6 419.3 837.4 420.7 838.2 421.5" fill="none" stroke="#000" stroke-width="4" />
<path d="M817.4 361.6 L819.1 408.2" fill="none" stroke="#000" stroke-width="3" />
<path d="M824.1 359.9 L824.1 408.2" fill="none" stroke="#000" stroke-width="3" />
<path d="M779.9 413.2 L828.2 409.0" fill="none" stroke="#000" stroke-width="5" />
<path d="M778.3 418.2 L829.9 414.0" fill="none" stroke="#000" stroke-width="3" />
<path d="M788.3 354.1 L804.9 348.2 L805.7 356.6 L808.2 363.2 L789.9 364.9 L794.9 359.1 L788.3 359.1Z" fill="#000" stroke="#000" stroke-width="1" />
<path d="M806.6 354.9 L860.7 339.1" fill="none" stroke="#000" stroke-width="4.5" />
<path d="M785.8 369.0 L806.6 363.2" fill="none" stroke="#000" stroke-width="3" />
<g transform="translate(700,230) scale(0.16652)" fill="none" stroke="#000">
<path d="M575 868 L740 852 L742 925 L640 965 L575 965 A 28 50 0 0 1 575 868Z" stroke-width="22" fill="#fff"/>
<path d="M620 870 Q600 915 625 960 M660 865 Q640 905 662 950 M700 860 Q682 895 702 935" stroke-width="14"/>
<ellipse cx="1165" cy="610" rx="185" ry="240" stroke-width="42" transform="rotate(-8 1165 610)"/>
<path d="M1295 505 L1420 470 L1440 595 L1310 600Z" fill="#fff" stroke="none"/>
<path d="M1090 425 L1170 570" stroke-width="36"/>
<path d="M1240 455 L1200 540" stroke-width="50"/>
<path d="M1015 575 L1150 600" stroke-width="36"/><path d="M1025 577 L1140 598" stroke-width="10" stroke="#fff"/>
<path d="M1145 660 L1095 765" stroke-width="34"/><path d="M1142 668 L1099 758" stroke-width="8" stroke="#fff"/>
<path d="M1210 650 L1250 790" stroke-width="36"/>
<path d="M1240 640 L1335 650 L1350 610" stroke-width="30"/>
<path d="M1160 595 L2040 360" stroke-width="28"/>
<path d="M2125 340 L2245 300" stroke-width="28" stroke-linecap="butt"/>
<path d="M1150 345 L1190 0" stroke-width="24"/>
</g>
<path d="M744.1 270.8 C750.7 269.3 770.1 265.0 783.3 261.6 C796.4 258.3 812.1 252.6 823.2 250.8 C834.3 249.0 842.7 250.1 849.9 250.8 C857.1 251.5 860.6 253.0 866.5 255.0 C872.5 256.9 882.5 261.2 885.7 262.5" fill="none" stroke="#000" stroke-width="3" />
<path d="M902.3 270.0 C904.7 270.9 908.6 274.0 916.5 275.8 C924.4 277.6 933.7 278.7 949.8 280.8 C965.9 282.9 1002.5 287.0 1013.1 288.3" fill="none" stroke="#000" stroke-width="3" />
<path d="M693.3 317.4 C694.4 317.3 690.6 318.1 700.0 316.6 C709.4 315.1 733.3 312.2 750.0 308.3 C766.6 304.4 788.3 296.7 799.9 293.3 C811.6 289.8 813.5 288.4 819.9 287.5 C826.3 286.5 832.4 286.6 838.2 287.5 C844.0 288.3 852.1 291.6 854.9 292.4" fill="none" stroke="#000" stroke-width="3.5" />
<path d="M693.3 322.6 L721.6 320.8 L733.3 315.3 L819.9 291.9" fill="none" stroke="#000" stroke-width="2" />
<path d="M693.3 327.4 C694.4 327.3 690.6 328.4 700.0 326.6 C709.4 324.8 734.7 320.5 750.0 316.6 C765.2 312.7 780.5 306.5 791.6 303.3 C802.7 300.1 809.6 298.0 816.6 297.4 C823.5 296.9 828.1 298.3 833.2 299.9 C838.4 301.6 845.0 306.2 847.4 307.4" fill="none" stroke="#000" stroke-width="3.5" />
<path d="M717.5 335.7 C722.9 334.5 738.4 331.7 750.0 328.2 C761.5 324.8 776.9 318.0 786.6 314.9 C796.3 311.9 801.6 310.2 808.2 309.9 C814.9 309.7 820.3 311.3 826.6 313.3 C832.8 315.2 842.5 320.2 845.7 321.6" fill="none" stroke="#000" stroke-width="3.5" />
<path d="M818.2 296.6 L831.6 288.3" fill="none" stroke="#000" stroke-width="3" />
<path d="M1045.5 296.6 C1049.0 297.0 1059.4 298.0 1066.4 299.1 C1073.3 300.2 1083.6 302.6 1087.0 303.3" fill="none" stroke="#000" stroke-width="3" />
<path d="M970.6 318.3 C978.2 319.1 997.0 320.9 1016.4 323.3 C1035.8 325.6 1075.2 330.9 1087.0 332.4" fill="none" stroke="#000" stroke-width="3" />
<path d="M939.8 330.7 C949.8 332.3 975.2 336.0 999.7 339.9 C1024.3 343.8 1072.5 351.7 1087.0 354.1" fill="none" stroke="#000" stroke-width="4" />
<path d="M941.5 343.2 C951.2 344.9 975.5 349.1 999.7 353.2 C1024.0 357.4 1072.5 365.7 1087.0 368.2" fill="none" stroke="#000" stroke-width="4" />
<path d="M912.3 418.2 L913.1 409.8 L919.8 400.7 L966.4 399.9 L972.3 404.8 L972.3 418.2" fill="none" stroke="#000" stroke-width="4.5" />
<path d="M915.6 416.5 L916.5 409.8 L921.5 405.7 L953.1 405.7 L953.1 415.7" fill="none" stroke="#000" stroke-width="3.5" />
<path d="M957.3 409.0 L968.1 409.0 L968.1 417.3" fill="none" stroke="#000" stroke-width="3" />
<path d="M1087.0 174.6 C1090.3 175.5 1097.3 178.7 1107.0 180.0 C1116.7 181.3 1136.7 182.3 1145.3 182.5 C1153.9 182.6 1155.3 180.9 1158.6 180.8 C1161.9 180.7 1164.2 181.5 1165.3 181.6" fill="none" stroke="#000" stroke-width="3" />
<path d="M1165.3 181.6 L1411.7 254.1" fill="none" stroke="#000" stroke-width="3" />
<path d="M1087.0 207.4 C1091.2 207.7 1102.5 208.4 1112.0 209.1 C1121.4 209.8 1138.3 211.2 1143.6 211.6" fill="none" stroke="#000" stroke-width="3" />
<path d="M1143.6 211.6 L1420.0 287.4" fill="none" stroke="#000" stroke-width="3" />
<path d="M1152.8 160.8 C1151.8 162.6 1148.2 167.9 1146.9 171.6 C1145.7 175.4 1146.9 178.8 1145.3 183.3 C1143.6 187.7 1138.8 194.1 1137.0 198.3 C1135.2 202.4 1134.9 206.6 1134.5 208.3" fill="none" stroke="#000" stroke-width="3" />
<path d="M1174.4 160.0 C1172.1 162.6 1162.9 172.2 1160.3 175.8 C1157.6 179.4 1160.8 178.4 1158.6 181.6 C1156.4 184.8 1149.6 190.2 1146.9 194.9 C1144.3 199.7 1143.5 207.4 1142.8 209.9" fill="none" stroke="#000" stroke-width="3" />
<path d="M1186.9 160.8 L1165.3 177.5" fill="none" stroke="#000" stroke-width="3" />
<path d="M1148.6 185.0 C1147.2 187.2 1142.1 194.1 1140.3 198.3 C1138.5 202.4 1138.2 208.0 1137.8 209.9" fill="none" stroke="#000" stroke-width="3" />
<path d="M1361.8 160.8 C1361.9 162.1 1361.2 166.4 1362.6 168.3 C1364.0 170.2 1351.5 166.6 1370.1 172.5 C1388.7 178.3 1456.7 198.1 1474.0 203.3" fill="none" stroke="#000" stroke-width="5.5" />
<path d="M1356.8 160.8 C1356.4 162.3 1353.7 167.3 1354.3 170.0 C1354.8 172.6 1353.3 173.7 1360.1 176.6 C1366.9 179.5 1389.2 185.6 1395.1 187.5" fill="none" stroke="#000" stroke-width="3" />
<path d="M1376.8 160.8 L1366.8 170.0" fill="none" stroke="#000" stroke-width="3" />
<path d="M1395.1 187.5 C1395.6 188.7 1399.0 192.0 1398.4 194.9 C1397.8 197.9 1394.8 201.6 1391.7 204.9 C1388.7 208.3 1382.6 212.3 1380.1 214.9 C1377.6 217.6 1376.5 218.7 1376.8 220.8 C1377.0 222.8 1379.0 225.9 1381.7 227.4 C1384.5 228.9 1389.8 229.6 1393.4 229.9 C1397.0 230.2 1401.7 229.2 1403.4 229.1" fill="none" stroke="#000" stroke-width="3.5" />
<path d="M1391.7 224.9 C1391.5 223.5 1389.5 219.6 1390.1 216.6 C1390.6 213.5 1391.5 209.4 1395.1 206.6 C1398.7 203.8 1406.4 201.0 1411.7 199.9 C1417.0 198.8 1423.7 198.6 1426.7 199.9 C1429.8 201.3 1430.0 205.8 1430.0 208.3 C1430.0 210.8 1427.3 213.8 1426.7 214.9" fill="none" stroke="#000" stroke-width="3.5" />
<path d="M1395.1 219.9 C1395.9 218.5 1397.0 213.8 1400.1 211.6 C1403.1 209.4 1408.9 207.3 1413.4 206.6 C1417.8 205.9 1424.2 206.6 1426.7 207.4 C1429.2 208.3 1428.1 210.9 1428.4 211.6" fill="none" stroke="#000" stroke-width="3.5" />
<path d="M1406.7 213.3 C1406.0 214.1 1402.0 211.6 1402.6 218.3 C1403.1 224.9 1407.1 241.8 1410.1 253.2 C1413.0 264.6 1417.0 279.0 1420.0 286.5 C1423.1 294.0 1424.8 295.1 1428.4 298.2 C1432.0 301.2 1437.5 303.9 1441.7 304.8 C1445.9 305.8 1448.0 305.8 1453.4 304.0 C1458.7 302.2 1470.6 295.7 1474.0 294.0" fill="none" stroke="#000" stroke-width="3.5" />
<path d="M1406.7 213.3 C1408.8 212.8 1417.0 211.0 1419.2 210.8 C1421.4 210.5 1418.5 205.6 1420.0 211.6 C1421.6 217.6 1425.3 235.5 1428.4 246.6 C1431.4 257.7 1435.3 271.5 1438.4 278.2 C1441.4 284.9 1444.2 285.4 1446.7 286.5 C1449.2 287.6 1448.8 287.1 1453.4 284.9 C1457.9 282.6 1470.6 275.2 1474.0 273.2" fill="none" stroke="#000" stroke-width="3.5" />
<path d="M1425.0 220.8 C1428.4 219.2 1436.9 214.2 1445.0 211.6 C1453.2 209.0 1469.2 206.0 1474.0 204.9" fill="none" stroke="#000" stroke-width="3" />
<path d="M1436.7 261.6 L1474.0 271.5" fill="none" stroke="#000" stroke-width="3" />
<path d="M1087.0 304.0 C1098.1 304.7 1125.9 306.4 1153.6 308.2 C1181.4 310.0 1225.8 312.6 1253.5 314.8 C1281.3 317.1 1306.3 320.0 1320.1 321.5 C1334.0 323.0 1328.5 323.9 1336.8 324.0 C1345.1 324.1 1361.8 322.5 1370.1 322.3 C1378.4 322.2 1381.2 321.6 1386.7 323.2 C1392.3 324.7 1397.8 327.6 1403.4 331.5 C1408.9 335.4 1413.7 340.7 1420.0 346.5 C1426.4 352.3 1432.7 360.6 1441.7 366.5 C1450.7 372.3 1468.6 379.0 1474.0 381.5" fill="none" stroke="#000" stroke-width="3.5" />
<path d="M1087.0 332.3 C1100.9 333.2 1142.5 335.5 1170.3 337.3 C1198.0 339.1 1228.5 341.5 1253.5 343.1 C1278.5 344.8 1306.3 346.6 1320.1 347.3 C1334.0 348.0 1328.5 347.6 1336.8 347.3 C1345.1 347.0 1362.9 345.5 1370.1 345.6 C1377.3 345.8 1374.8 344.3 1380.1 348.1 C1385.4 352.0 1398.1 365.5 1401.7 369.0" fill="none" stroke="#000" stroke-width="3.5" />
<path d="M1087.0 354.8 C1100.9 357.0 1145.3 364.0 1170.3 368.1 C1195.2 372.3 1220.8 376.3 1236.9 379.8 C1253.0 383.3 1258.5 387.7 1266.8 388.9 C1275.2 390.2 1277.9 388.5 1286.8 387.3 C1295.7 386.0 1311.3 382.4 1320.1 381.5 C1329.0 380.5 1333.2 379.7 1340.1 381.5 C1347.1 383.2 1358.2 390.3 1361.8 392.1" fill="none" stroke="#000" stroke-width="3.5" />
<path d="M1087.0 364.8 C1100.9 367.3 1146.7 375.2 1170.3 379.8 C1193.9 384.3 1218.8 390.1 1228.5 392.1" fill="none" stroke="#000" stroke-width="3.5" />
<path d="M1300.1 392.1 C1303.5 391.7 1313.5 390.0 1320.1 389.8 C1326.8 389.5 1336.8 390.5 1340.1 390.6" fill="none" stroke="#000" stroke-width="3" />
<path d="M908.3 145.0 L898.3 230.0" fill="none" stroke="#000" stroke-width="4" />
<path d="M834.7 181.7 C844.5 182.1 865.8 182.1 893.4 184.1 C920.9 186.0 967.8 190.1 1000.1 193.4 C1032.4 196.7 1072.6 202.3 1087.1 204.1" fill="none" stroke="#000" stroke-width="3" />
<path d="M1030.1 159.4 L1087.1 175.0" fill="none" stroke="#000" stroke-width="3" />
<path d="M1087.0 429.0 C1098.1 429.7 1128.7 430.5 1153.7 433.0 C1178.7 435.5 1214.8 440.7 1237.0 444.0 C1259.2 447.3 1270.3 449.7 1287.0 453.0 C1303.7 456.3 1314.8 459.2 1337.0 464.0 C1359.2 468.8 1397.2 476.7 1420.0 481.7 C1442.8 486.7 1446.8 486.3 1474.0 494.0 C1501.2 501.7 1553.7 518.2 1583.0 528.0 C1612.3 537.8 1631.9 545.5 1650.0 552.5 C1668.1 559.5 1677.9 563.8 1691.7 570.0 C1705.5 576.2 1726.1 586.7 1733.0 590.0" fill="none" stroke="#000" stroke-width="4.5" />
<path d="M1087.0 431.5 C1112.0 434.2 1195.3 441.9 1237.0 448.0 C1278.7 454.1 1297.5 459.7 1337.0 468.0 C1376.5 476.3 1433.0 487.2 1474.0 498.0 C1515.0 508.8 1553.7 522.8 1583.0 532.5 C1612.3 542.2 1625.0 546.1 1650.0 556.5 C1675.0 566.9 1719.2 588.6 1733.0 595.0" fill="none" stroke="#000" stroke-width="2" />
<path d="M1087.0 435.8 C1112.0 438.7 1195.3 446.8 1237.0 453.0 C1278.7 459.2 1297.5 464.8 1337.0 473.0 C1376.5 481.2 1433.0 491.8 1474.0 502.5 C1515.0 513.2 1553.7 527.0 1583.0 537.0 C1612.3 547.0 1638.8 558.2 1650.0 562.5" fill="none" stroke="#000" stroke-width="3" />
<path d="M1361.8 392.3 L1381.7 406.6" fill="none" stroke="#000" stroke-width="3.5" />
<path d="M1228.5 392.3 C1234.1 393.3 1252.1 397.6 1261.8 398.3 C1271.6 399.0 1277.1 398.0 1286.8 396.6 C1296.5 395.2 1311.8 391.1 1320.1 390.0 C1328.5 388.8 1331.2 388.6 1336.8 390.0 C1342.3 391.3 1348.2 395.1 1353.4 398.3 C1358.7 401.5 1365.9 407.3 1368.4 409.1" fill="none" stroke="#000" stroke-width="3.5" />
<path d="M1286.8 451.6 C1288.2 450.7 1292.7 449.6 1295.2 446.6 C1297.7 443.5 1299.6 438.0 1301.8 433.3 C1304.0 428.5 1306.5 422.2 1308.5 418.3 C1310.4 414.4 1311.0 412.7 1313.5 409.9 C1316.0 407.2 1320.1 403.7 1323.5 401.6 C1326.8 399.5 1331.0 397.2 1333.5 397.5 C1336.0 397.7 1336.9 400.6 1338.5 403.3 C1340.0 405.9 1341.9 411.6 1342.6 413.3" fill="none" stroke="#000" stroke-width="4" />
<path d="M1315.1 413.3 C1316.5 412.2 1320.7 408.0 1323.5 406.6 C1326.2 405.2 1329.6 404.7 1331.8 404.9 C1334.0 405.2 1335.4 406.6 1336.8 408.3 C1338.2 409.9 1339.6 413.8 1340.1 414.9" fill="none" stroke="#000" stroke-width="3" />
<path d="M1320.1 406.6 L1336.8 408.3" fill="none" stroke="#000" stroke-width="3" />
<path d="M1310.1 421.6 L1320.1 419.9" fill="none" stroke="#000" stroke-width="3" />
<path d="M1320.1 421.6 L1331.8 419.9 L1333.5 431.6 L1326.8 434.9 L1321.8 430.8Z" fill="#000" stroke="#000" stroke-width="1" />
<path d="M1301.8 438.2 C1304.9 437.7 1315.7 436.0 1320.1 434.9 C1324.6 433.8 1327.1 432.1 1328.5 431.6" fill="none" stroke="#000" stroke-width="3" />
<path d="M1315.1 436.6 L1316.8 456.6" fill="none" stroke="#000" stroke-width="3" />
<path d="M1325.1 434.9 L1327.6 459.1" fill="none" stroke="#000" stroke-width="3" />
<path d="M1331.8 434.9 L1333.5 459.9" fill="none" stroke="#000" stroke-width="3" />
<path d="M1340.1 432.4 C1339.4 435.1 1336.5 443.7 1336.0 448.2 C1335.4 452.8 1335.5 457.1 1336.8 459.9 C1338.0 462.7 1342.3 464.1 1343.4 464.9" fill="none" stroke="#000" stroke-width="3" />
<g transform="translate(1087,340) scale(0.16652)" fill="none" stroke="#000">
<ellipse cx="2015" cy="410" rx="95" ry="175" stroke-width="46"/>
<path d="M2085 330 L2200 300 L2200 440 L2085 445Z" fill="#fff" stroke="none"/>
<path d="M2040 270 L2110 320" stroke-width="46"/><path d="M2090 450 L2130 455" stroke-width="40"/>
<path d="M1960 280 L2010 400 M2000 250 L2020 395 M1940 395 L2010 400 M2020 420 L1970 520 M2040 440 L2070 530 M2050 450 L2070 500 L2090 460" stroke-width="12"/>
<path d="M1480 520 L2324 340" stroke-width="28"/>
</g>
<path d="M1466.7 407.4 L1474.0 409.9" fill="none" stroke="#000" stroke-width="3" />
<path d="M1455.0 426.6 L1474.0 430.8" fill="none" stroke="#000" stroke-width="3" />
<path d="M1451.7 435.8 L1474.0 439.9" fill="none" stroke="#000" stroke-width="3" />
<path d="M1650.0 552.5 C1656.9 555.4 1677.8 563.7 1691.6 570.0 C1705.5 576.2 1726.3 586.6 1733.3 590.0" fill="none" stroke="#000" stroke-width="4.5" />
<path d="M915 128 L922 128 L922 86 L917.3 86 L916.2 87.1 L915.6 90 L912.9 92.9 L909.1 93 L906 94 L906 98.9 L915 98.9Z" fill="#000"/>
<path d="M1531.9 1047.0 C1531.9 1046.1 1531.4 1043.3 1531.9 1041.7 C1532.5 1040.1 1534.1 1038.3 1535.2 1037.2 C1536.3 1036.1 1537.5 1035.4 1538.8 1035.0 C1540.1 1034.6 1541.4 1034.8 1542.8 1034.8 C1544.2 1034.8 1545.8 1034.7 1547.2 1035.2 C1548.6 1035.7 1550.2 1036.6 1551.2 1037.7 C1552.2 1038.8 1553.1 1040.4 1553.5 1041.7 C1553.9 1043.0 1553.9 1044.4 1553.7 1045.7 C1553.5 1047.0 1552.9 1048.5 1552.1 1049.7 C1551.2 1050.9 1550.1 1051.8 1548.6 1052.8 C1547.0 1053.8 1544.6 1054.5 1542.8 1055.5 C1541.0 1056.5 1539.0 1057.5 1537.5 1058.6 C1536.0 1059.7 1534.5 1060.8 1533.5 1062.1 C1532.5 1063.3 1531.7 1064.8 1531.2 1066.1 C1530.7 1067.4 1530.7 1069.1 1530.6 1069.7" fill="none" stroke="#000" stroke-width="6" stroke-linecap="butt"/>
<rect x="1527.9" y="1068.1" width="29.1" height="5.8" fill="#000"/>
<path d="M1474.0 205.8 C1478.2 204.4 1489.8 202.2 1499.0 197.5 C1508.1 192.7 1524.0 180.8 1529.0 177.5" fill="none" stroke="#000" stroke-width="6" />
<path d="M1543.9 160.0 C1545.3 163.6 1549.5 173.9 1552.3 181.6 C1555.0 189.4 1559.1 199.7 1560.6 206.6 C1562.1 213.5 1562.3 217.7 1561.4 223.3 C1560.6 228.8 1558.5 234.9 1555.6 239.9 C1552.7 244.9 1552.5 246.9 1543.9 253.2 C1535.3 259.6 1515.6 271.1 1504.0 278.2 C1492.3 285.3 1479.0 292.8 1474.0 295.7" fill="none" stroke="#000" stroke-width="3.5" />
<path d="M1519.8 160.8 C1520.5 160.8 1522.4 157.3 1524.0 160.8 C1525.5 164.3 1526.7 174.0 1529.0 181.6 C1531.2 189.3 1535.3 200.8 1537.3 206.6 C1539.2 212.4 1540.2 213.3 1540.6 216.6 C1541.0 219.9 1541.2 223.0 1539.8 226.6 C1538.4 230.2 1543.2 230.5 1532.3 238.2 C1521.3 246.0 1483.7 267.4 1474.0 273.2" fill="none" stroke="#000" stroke-width="3.5" />
<path d="M1500.6 281.5 L1530.6 288.2" fill="none" stroke="#000" stroke-width="3.5" />
<path d="M1530.6 288.2 C1561.1 271.8 1678.8 209.1 1713.8 190.0 C1748.8 170.8 1733.2 178.2 1740.4 173.3 C1747.7 168.4 1754.3 162.9 1757.1 160.8" fill="none" stroke="#000" stroke-width="4.5" />
<path d="M1474.0 302.4 L1515.6 313.2 L1530.6 294.9 L1532.3 294.0" fill="none" stroke="#000" stroke-width="3.5" />
<path d="M1532.3 294.0 C1536.4 296.4 1539.2 301.7 1557.3 308.2 C1575.3 314.7 1612.8 324.6 1640.5 333.2 C1668.3 341.8 1698.8 351.2 1723.8 359.8 C1748.8 368.4 1776.5 379.8 1790.4 384.8 C1804.3 389.8 1800.1 389.0 1807.0 389.8 C1814.0 390.6 1823.0 390.6 1832.0 389.8 C1841.0 389.0 1856.2 385.6 1861.0 384.8" fill="none" stroke="#000" stroke-width="3.5" />
<path d="M1515.6 314.0 C1521.2 317.2 1528.1 323.9 1548.9 333.2 C1569.8 342.5 1613.6 358.3 1640.5 369.8 C1667.4 381.3 1698.8 396.7 1710.5 402.1" fill="none" stroke="#000" stroke-width="3.5" />
<path d="M1861.0 163.3 C1852.0 164.6 1824.4 167.2 1807.0 170.8 C1789.7 174.4 1773.7 178.4 1757.1 185.0 C1740.4 191.5 1721.0 201.1 1707.1 209.9 C1693.3 218.8 1682.7 229.9 1673.8 238.2 C1664.9 246.6 1658.6 253.2 1653.8 259.9 C1649.1 266.6 1647.0 272.4 1645.5 278.2 C1644.0 284.0 1643.9 289.9 1644.7 294.9 C1645.5 299.9 1647.0 303.7 1650.5 308.2 C1654.0 312.6 1653.3 315.1 1665.5 321.5 C1677.7 327.9 1704.4 337.3 1723.8 346.5 C1743.2 355.6 1769.6 370.1 1782.1 376.5 C1794.6 382.8 1795.9 383.4 1798.7 384.8" fill="none" stroke="#000" stroke-width="3.5" />
<path d="M1861.0 167.5 C1852.0 168.7 1824.4 171.2 1807.0 175.0 C1789.7 178.7 1773.7 183.6 1757.1 190.0 C1740.4 196.3 1719.6 205.8 1707.1 213.3 C1694.6 220.8 1688.3 228.3 1682.2 234.9 C1676.0 241.6 1673.1 247.4 1670.5 253.2 C1667.9 259.1 1666.5 264.6 1666.3 269.9 C1666.2 275.2 1667.3 280.4 1669.7 284.9 C1672.0 289.3 1671.5 291.5 1680.5 296.5 C1689.5 301.5 1707.4 307.2 1723.8 314.8 C1740.2 322.5 1766.0 336.1 1778.7 342.3 C1791.5 348.6 1792.9 350.2 1800.4 352.3 C1807.9 354.4 1813.6 355.0 1823.7 354.8 C1833.8 354.7 1854.8 352.0 1861.0 351.5" fill="none" stroke="#000" stroke-width="3.5" />
<path d="M1861.0 170.8 C1852.0 172.1 1824.4 174.6 1807.0 178.3 C1789.7 182.0 1773.2 186.6 1757.1 193.3 C1741.0 199.9 1721.6 211.3 1710.5 218.3 C1699.4 225.2 1695.5 229.1 1690.5 234.9 C1685.5 240.7 1682.8 248.0 1680.5 253.2 C1678.1 258.5 1676.3 262.1 1676.3 266.6 C1676.3 271.0 1678.1 276.3 1680.5 279.9 C1682.8 283.5 1683.3 284.3 1690.5 288.2 C1697.7 292.1 1707.1 295.7 1723.8 303.2 C1740.4 310.7 1775.1 326.5 1790.4 333.2 C1805.7 339.8 1803.6 341.6 1815.4 343.2 C1827.1 344.7 1853.4 342.5 1861.0 342.3" fill="none" stroke="#000" stroke-width="3.5" />
<path d="M1861.0 190.8 C1857.6 189.4 1846.6 184.1 1840.4 182.5 C1834.1 180.8 1832.0 180.1 1823.7 180.8 C1815.4 181.5 1802.9 182.6 1790.4 186.6 C1777.9 190.7 1761.3 198.3 1748.8 204.9 C1736.3 211.6 1723.8 219.9 1715.5 226.6 C1707.1 233.3 1702.4 239.4 1698.8 244.9 C1695.2 250.5 1694.1 255.7 1693.8 259.9 C1693.5 264.1 1694.9 267.1 1697.1 269.9 C1699.4 272.7 1697.1 271.6 1707.1 276.5 C1717.1 281.5 1737.7 290.7 1757.1 299.9 C1776.5 309.0 1809.8 325.7 1823.7 331.5 C1837.6 337.3 1834.1 334.6 1840.4 334.8 C1846.6 335.1 1857.6 333.4 1861.0 333.2" fill="none" stroke="#000" stroke-width="4.5" />
<path d="M1778.7 342.3 C1780.7 344.1 1785.7 349.8 1790.4 353.1 C1795.1 356.5 1801.5 360.1 1807.0 362.3 C1812.6 364.5 1814.7 366.3 1823.7 366.5 C1832.7 366.6 1854.8 363.7 1861.0 363.1" fill="none" stroke="#000" stroke-width="3.5" />
<path d="M1712.1 165.0 C1713.2 165.1 1715.9 166.5 1718.8 165.8 C1721.7 165.1 1727.8 161.6 1729.6 160.8" fill="none" stroke="#000" stroke-width="6" />
<path d="M1474.0 380.6 L1485.7 386.5" fill="none" stroke="#000" stroke-width="3" />
<path d="M1474.0 396.4 L1509.8 390.6" fill="none" stroke="#000" stroke-width="4.5" stroke-linecap="butt"/>
<path d="M1523.1 388.1 L1543.1 384.5" fill="none" stroke="#000" stroke-width="4.5" stroke-linecap="butt"/>
<path d="M1511.5 399.8 L1529.0 402.1" fill="none" stroke="#000" stroke-width="3" />
<path d="M1818.7 397.3 L1828.7 402.1" fill="none" stroke="#000" stroke-width="3" />
<path d="M1861.0 164.1 C1863.0 164.2 1876.8 164.4 1881.0 165.0 C1885.1 165.6 1898.6 168.6 1902.6 170.0 C1906.6 171.3 1910.5 170.6 1920.9 178.3 C1931.4 186.0 1998.3 238.7 2007.5 246.6 C2016.8 254.4 2012.6 254.6 2013.4 256.6 C2014.1 258.6 2015.2 264.6 2015.0 266.6 C2014.9 268.6 2012.4 275.0 2011.7 276.5 C2011.0 278.1 2008.7 281.8 2008.4 282.4" fill="none" stroke="#000" stroke-width="3.5" />
<path d="M2009.2 284.9 C2007.3 287.7 2003.7 294.6 1997.5 301.5 C1991.4 308.5 1976.7 322.3 1972.6 326.5" fill="none" stroke="#000" stroke-width="3.5" />
<path d="M1961.7 334.8 L1934.3 354.0" fill="none" stroke="#000" stroke-width="3.5" />
<path d="M1918.5 363.1 L1906.0 369.0" fill="none" stroke="#000" stroke-width="3.5" />
<path d="M1894.3 374.8 L1861.0 385.6" fill="none" stroke="#000" stroke-width="3.5" />
<path d="M1861.0 170.8 C1862.7 171.1 1874.7 172.4 1877.7 173.3 C1880.6 174.2 1881.1 173.0 1891.0 180.0 C1900.8 187.0 1966.7 236.1 1975.9 243.2 C1985.1 250.4 1982.4 249.7 1983.4 251.6 C1984.4 253.4 1986.0 259.1 1985.9 261.6 C1985.8 264.1 1983.7 273.7 1982.6 276.5 C1981.4 279.4 1977.1 286.5 1974.2 289.9 C1971.4 293.2 1959.7 305.7 1954.3 309.9 C1948.8 314.0 1928.6 327.3 1919.3 331.5 C1910.0 335.7 1866.8 349.5 1861.0 351.5" fill="none" stroke="#000" stroke-width="3.5" />
<path d="M1861.0 174.1 C1862.3 174.7 1863.7 172.6 1874.3 180.0 C1885.0 187.4 1957.6 240.6 1967.6 248.2 C1977.6 255.9 1973.5 254.7 1974.2 256.6 C1975.0 258.4 1975.6 264.1 1975.1 266.6 C1974.6 269.1 1971.0 278.7 1969.2 281.5 C1967.5 284.4 1961.7 291.7 1957.6 294.9 C1953.4 298.0 1933.9 310.0 1927.6 313.2 C1921.3 316.3 1901.0 323.6 1894.3 326.5 C1887.6 329.4 1864.3 340.7 1861.0 342.3" fill="none" stroke="#000" stroke-width="3.5" />
<path d="M1861.0 190.8 C1869.3 196.9 1934.9 244.5 1944.3 251.6 C1953.6 258.6 1953.1 259.6 1954.3 261.6 C1955.4 263.6 1956.3 269.2 1955.9 271.6 C1955.6 273.9 1952.6 282.4 1950.9 284.9 C1949.3 287.4 1941.9 294.4 1939.3 296.5 C1936.6 298.7 1929.6 303.9 1924.3 306.5 C1919.0 309.2 1892.3 320.5 1886.0 323.2 C1879.7 325.8 1863.5 332.2 1861.0 333.2" fill="none" stroke="#000" stroke-width="4.5" />
<path d="M1861.0 363.1 C1866.6 360.9 1884.6 354.8 1894.3 349.8 C1904.0 344.8 1915.1 335.9 1919.3 333.2" fill="none" stroke="#000" stroke-width="3.5" />
<path d="M1929.3 160.0 L2083.3 281.5" fill="none" stroke="#000" stroke-width="3.5" />
<path d="M1995.9 160.0 L2044.2 198.3" fill="none" stroke="#000" stroke-width="6" />
<path d="M2044.2 198.3 L2083.3 235.8" fill="none" stroke="#000" stroke-width="3.5" />
<path d="M2047.5 201.6 L2083.3 228.3" fill="none" stroke="#000" stroke-width="3" />
<path d="M2040.8 174.1 L2083.3 208.3" fill="none" stroke="#000" stroke-width="4" />
<path d="M2051.7 160.0 L2083.3 185.8" fill="none" stroke="#000" stroke-width="4.5" />
<path d="M2020.0 274.9 C2019.8 273.5 2021.8 271.2 2024.2 269.9 C2026.6 268.6 2031.8 266.9 2034.2 266.9 C2036.5 266.9 2038.3 268.4 2038.3 269.9 C2038.3 271.4 2036.3 274.3 2034.2 275.7 C2032.1 277.1 2028.2 278.4 2025.9 278.2 C2023.5 278.1 2020.3 276.3 2020.0 274.9Z" fill="none" stroke="#000" stroke-width="4" />
<path d="M2083.3 295.7 C2079.0 296.5 2065.4 297.8 2057.5 300.7 C2049.6 303.6 2042.2 308.3 2035.8 313.2 C2029.5 318.0 2023.1 323.7 2019.2 329.8 C2015.3 335.9 2013.1 343.4 2012.5 349.8 C2012.0 356.2 2013.4 362.6 2015.9 368.1 C2018.4 373.7 2022.8 378.7 2027.5 383.1 C2032.2 387.6 2038.6 392.0 2044.2 394.8 C2049.7 397.6 2054.3 398.6 2060.8 399.8 C2067.4 401.0 2079.6 401.7 2083.3 402.1" fill="none" stroke="#000" stroke-width="3.5" />
<path d="M2054.2 307.4 C2056.7 307.8 2064.3 309.7 2069.2 309.9 C2074.0 310.0 2080.9 308.5 2083.3 308.2" fill="none" stroke="#000" stroke-width="3" />
<path d="M2067.5 320.7 L2083.3 314.8" fill="none" stroke="#000" stroke-width="3" />
<path d="M2053.3 390.6 L2083.3 402.1" fill="none" stroke="#000" stroke-width="4.5" />
<path d="M2025.9 320.7 L2034.2 325.7" fill="none" stroke="#000" stroke-width="3" />
<path d="M2032.5 319.8 L2027.5 327.3" fill="none" stroke="#000" stroke-width="3" />
<path d="M1511.5 400.0 C1521.9 402.6 1552.4 410.0 1573.9 415.8 C1595.4 421.6 1621.1 431.3 1640.5 435.0 C1660.0 438.6 1679.4 435.8 1690.5 437.5 C1701.6 439.1 1701.6 441.5 1707.1 444.9 C1712.7 448.4 1718.2 453.5 1723.8 458.3 C1729.3 463.0 1734.3 469.4 1740.4 473.3 C1746.5 477.1 1757.1 480.2 1760.4 481.6" fill="none" stroke="#000" stroke-width="3.5" />
<path d="M1474.0 409.1 C1478.2 411.1 1485.1 416.2 1499.0 420.8 C1512.9 425.4 1536.4 430.7 1557.3 436.6 C1578.1 442.6 1607.2 453.0 1623.9 456.6 C1640.5 460.2 1648.3 457.6 1657.2 458.3 C1666.1 459.0 1672.0 459.4 1677.2 460.8 C1682.3 462.2 1686.2 465.6 1688.0 466.6" fill="none" stroke="#000" stroke-width="3.5" />
<path d="M1474.0 430.8 C1487.9 434.0 1533.7 444.1 1557.3 449.9 C1580.9 455.8 1601.7 462.8 1615.5 465.8 C1629.4 468.7 1632.2 467.1 1640.5 467.4 C1648.8 467.7 1658.3 466.0 1665.5 467.4 C1672.7 468.8 1680.8 474.4 1683.8 475.8" fill="none" stroke="#000" stroke-width="3.5" />
<path d="M1474.0 440.8 C1487.9 444.3 1535.1 455.8 1557.3 461.6 C1579.5 467.4 1593.3 473.5 1607.2 475.8 C1621.1 478.0 1631.1 474.9 1640.5 474.9 C1650.0 474.9 1657.2 474.2 1663.8 475.8 C1670.5 477.3 1677.7 482.7 1680.5 484.1" fill="none" stroke="#000" stroke-width="3.5" />
<path d="M1670.5 468.3 L1678.0 463.3" fill="none" stroke="#000" stroke-width="3" />
<path d="M1663.8 380.0 C1673.8 385.6 1705.5 402.8 1723.8 413.3 C1742.1 423.9 1760.6 434.5 1773.7 443.3 C1786.9 452.0 1798.0 462.0 1802.9 465.8" fill="none" stroke="#000" stroke-width="3.5" />
<path d="M1817.9 397.5 L1844.5 411.6" fill="none" stroke="#000" stroke-width="3.5" />
<path d="M1516.5 504.1 C1516.7 502.8 1516.9 498.2 1518.1 496.6 C1519.4 494.9 1516.9 492.8 1524.0 494.1 C1531.0 495.3 1553.9 501.7 1560.6 504.1 C1567.3 506.4 1563.5 505.9 1563.9 508.2 C1564.3 510.6 1563.2 516.5 1563.1 518.2" fill="none" stroke="#000" stroke-width="5" />
<path d="M1524.0 503.2 L1548.1 511.6 L1547.3 514.9" fill="none" stroke="#000" stroke-width="3.5" />
<path d="M1552.3 511.6 L1560.6 513.2" fill="none" stroke="#000" stroke-width="3.5" />
<path d="M1617.2 536.5 C1618.3 536.0 1621.1 536.5 1623.9 533.2 C1626.6 529.9 1630.5 522.7 1633.9 516.5 C1637.2 510.4 1641.1 501.0 1643.9 496.6 C1646.6 492.1 1647.5 492.3 1650.5 489.9 C1653.6 487.5 1659.1 483.8 1662.2 482.4 C1665.2 481.0 1667.0 480.6 1668.8 481.6 C1670.6 482.6 1672.0 486.2 1673.0 488.2 C1674.0 490.3 1674.4 493.1 1674.7 494.1" fill="none" stroke="#000" stroke-width="4" />
<path d="M1650.5 493.2 L1662.2 499.9" fill="none" stroke="#000" stroke-width="3" />
<path d="M1653.8 489.9 L1665.5 494.9" fill="none" stroke="#000" stroke-width="3" />
<path d="M1657.2 486.6 L1668.8 491.6" fill="none" stroke="#000" stroke-width="3" />
<path d="M1645.5 499.9 L1657.2 499.1 L1658.0 511.6 L1647.2 511.6Z" fill="#000" stroke="#000" stroke-width="1" />
<path d="M1637.2 513.2 L1647.2 511.6" fill="none" stroke="#000" stroke-width="3" />
<path d="M1629.7 526.5 L1631.4 539.9" fill="none" stroke="#000" stroke-width="3" />
<path d="M1645.5 511.6 L1648.8 548.2" fill="none" stroke="#000" stroke-width="3.5" />
<path d="M1652.2 509.9 L1662.2 523.2 L1667.2 513.2 L1673.0 511.6" fill="none" stroke="#000" stroke-width="3.5" />
<path d="M1667.2 521.5 C1665.8 525.2 1660.4 538.2 1658.8 543.2 C1657.3 548.2 1658.1 550.1 1658.0 551.5" fill="none" stroke="#000" stroke-width="3.5" />
<path d="M1673.0 513.2 C1671.5 517.4 1665.6 531.3 1663.8 538.2 C1662.0 545.1 1662.4 552.1 1662.2 554.8" fill="none" stroke="#000" stroke-width="3.5" />
<g transform="translate(1474,380) scale(0.16652)" fill="none" stroke="#000">
<ellipse cx="1410" cy="705" rx="62" ry="145" stroke-width="50"/>
<path d="M1430 640 L1560 620 L1560 745 L1440 745Z" fill="#fff" stroke="none"/>
<path d="M1420 560 L1490 610 L1490 640" stroke-width="44"/><path d="M1440 750 L1500 750" stroke-width="44"/>
<path d="M1390 600 L1410 700 M1425 620 L1412 700 M1412 715 L1385 800 M1415 715 L1435 810" stroke-width="12"/>
<path d="M1100 750 L1755 655" stroke-width="28"/>
<path d="M1835 645 L1960 625" stroke-width="28" stroke-linecap="butt"/>
</g>
<path d="M1738.8 503.2 C1744.6 506.6 1765.0 517.1 1773.7 523.2 C1782.5 529.3 1788.5 537.1 1791.4 539.9" fill="none" stroke="#000" stroke-width="4.5" />
<path d="M1738.8 511.6 C1744.0 514.6 1763.0 525.2 1770.4 529.9 C1777.8 534.6 1781.0 538.2 1783.1 539.9" fill="none" stroke="#000" stroke-width="3.5" />
<path d="M1735.4 520.7 C1740.4 523.6 1760.3 535.1 1765.4 538.2 C1770.6 541.2 1766.2 538.9 1766.4 539.0" fill="none" stroke="#000" stroke-width="3.5" />
<path d="M1781.2 495.7 C1785.5 498.6 1798.6 505.9 1807.0 513.2 C1815.5 520.6 1827.9 535.4 1832.0 539.9" fill="none" stroke="#000" stroke-width="3.5" />
<g transform="translate(763.0,556.7) scale(0.08296,0.08417)"><path d="M35 0 L120 0 L270 15 L430 35 L560 70 L640 95 L645 200 L665 290 L675 360 L570 355 L480 340 L440 355 L370 340 L230 310 L40 295 L0 265 L5 130 L15 45Z" fill="#000"/><path d="M45 40 L105 65 L125 235 L40 215Z M200 105 L235 70 L375 105 L380 160 L290 170 L200 173Z M430 115 L605 135 L615 195 L465 165Z M210 235 L435 220 L305 260 L300 290 L210 280Z M490 270 L570 270 L580 310 L490 300Z" fill="#fff"/></g>
<g transform="translate(965.0,583.0) scale(0.07407,0.07500)"><path d="M35 0 L120 0 L270 15 L430 35 L560 70 L640 95 L645 200 L665 290 L675 360 L570 355 L480 340 L440 355 L370 340 L230 310 L40 295 L0 265 L5 130 L15 45Z" fill="#000"/><path d="M45 40 L105 65 L125 235 L40 215Z M200 105 L235 70 L375 105 L380 160 L290 170 L200 173Z M430 115 L605 135 L615 195 L465 165Z M210 235 L435 220 L305 260 L300 290 L210 280Z M490 270 L570 270 L580 310 L490 300Z" fill="#fff"/></g>
<g transform="translate(516.7,643.0) scale(0.10563,0.09444)"><path d="M35 0 L120 0 L270 15 L430 35 L560 70 L640 95 L645 200 L665 290 L675 360 L570 355 L480 340 L440 355 L370 340 L230 310 L40 295 L0 265 L5 130 L15 45Z" fill="#000"/><path d="M45 40 L105 65 L125 235 L40 215Z M200 105 L235 70 L375 105 L380 160 L290 170 L200 173Z M430 115 L605 135 L615 195 L465 165Z M210 235 L435 220 L305 260 L300 290 L210 280Z M490 270 L570 270 L580 310 L490 300Z" fill="#fff"/></g>
<g transform="translate(749.0,665.0) scale(0.09141,0.08056)"><path d="M35 0 L120 0 L270 15 L430 35 L560 70 L640 95 L645 200 L665 290 L675 360 L570 355 L480 340 L440 355 L370 340 L230 310 L40 295 L0 265 L5 130 L15 45Z" fill="#000"/><path d="M45 40 L105 65 L125 235 L40 215Z M200 105 L235 70 L375 105 L380 160 L290 170 L200 173Z M430 115 L605 135 L615 195 L465 165Z M210 235 L435 220 L305 260 L300 290 L210 280Z M490 270 L570 270 L580 310 L490 300Z" fill="#fff"/></g>
<g transform="translate(951.0,681.7) scale(0.08252,0.06750)"><path d="M35 0 L120 0 L270 15 L430 35 L560 70 L640 95 L645 200 L665 290 L675 360 L570 355 L480 340 L440 355 L370 340 L230 310 L40 295 L0 265 L5 130 L15 45Z" fill="#000"/><path d="M45 40 L105 65 L125 235 L40 215Z M200 105 L235 70 L375 105 L380 160 L290 170 L200 173Z M430 115 L605 135 L615 195 L465 165Z M210 235 L435 220 L305 260 L300 290 L210 280Z M490 270 L570 270 L580 310 L490 300Z" fill="#fff"/></g>
<g transform="translate(1328.0,615.0) scale(1.04000,1.14211)"><path d="M3 2 L30 0 L46 3 L50 8 L49 13 L40 18 L3 19 L0 16 L1 4Z" fill="#000"/><path d="M4 6 L7 6 L7 15 L4 15Z M12 8 L20 6 L42 8 L42 10 L24 9 L14 11Z" fill="#fff"/></g>
<g transform="translate(1511.7,624.0) scale(0.96600,1.00000)"><path d="M3 2 L30 0 L46 3 L50 8 L49 13 L40 18 L3 19 L0 16 L1 4Z" fill="#000"/><path d="M4 6 L7 6 L7 15 L4 15Z M12 8 L20 6 L42 8 L42 10 L24 9 L14 11Z" fill="#fff"/></g>
<g transform="translate(1673.0,630.0) scale(0.97400,0.94737)"><path d="M3 2 L30 0 L46 3 L50 8 L49 13 L40 18 L3 19 L0 16 L1 4Z" fill="#000"/><path d="M4 6 L7 6 L7 15 L4 15Z M12 8 L20 6 L42 8 L42 10 L24 9 L14 11Z" fill="#fff"/></g>
<g transform="translate(1315.7,696.7) scale(1.14600,1.05263)"><path d="M3 2 L30 0 L46 3 L50 8 L49 13 L40 18 L3 19 L0 16 L1 4Z" fill="#000"/><path d="M4 6 L7 6 L7 15 L4 15Z M12 8 L20 6 L42 8 L42 10 L24 9 L14 11Z" fill="#fff"/></g>
<g transform="translate(1495.7,698.0) scale(1.08600,1.05263)"><path d="M3 2 L30 0 L46 3 L50 8 L49 13 L40 18 L3 19 L0 16 L1 4Z" fill="#000"/><path d="M4 6 L7 6 L7 15 L4 15Z M12 8 L20 6 L42 8 L42 10 L24 9 L14 11Z" fill="#fff"/></g>
<g transform="translate(1659.0,698.0) scale(1.04000,0.98421)"><path d="M3 2 L30 0 L46 3 L50 8 L49 13 L40 18 L3 19 L0 16 L1 4Z" fill="#000"/><path d="M4 6 L7 6 L7 15 L4 15Z M12 8 L20 6 L42 8 L42 10 L24 9 L14 11Z" fill="#fff"/></g>
<path d="M575.8 525.7 L595.8 530.7 L599.6 557.4 L554.1 552.4 L563.3 538.2Z" fill="#000" stroke="#000" stroke-width="1" />
<path d="M573.3 532.4 L590.8 536.5 L591.3 544.0 L573.6 541.5Z" fill="#fff" stroke="none" stroke-width="0" />
<path d="M558.3 549.9 L575.0 544.9 L574.1 552.4Z" fill="#fff" stroke="none" stroke-width="0" />
<path d="M583.3 546.5 L589.9 546.5 L590.3 553.2 L583.3 552.4Z" fill="#fff" stroke="none" stroke-width="0" />
<path d="M550.0 567.7 L621.7 577.7" fill="none" stroke="#000" stroke-width="3" />
<path d="M658.4 581.7 L923.5 613.4" fill="none" stroke="#000" stroke-width="3" />
<path d="M965.2 617.4 L1036.9 626.1" fill="none" stroke="#000" stroke-width="3" />
<path d="M1068.6 628.4 L1150.3 636.8" fill="none" stroke="#000" stroke-width="3" />
<path d="M1152.0 618.4 L1150.3 636.8" fill="none" stroke="#000" stroke-width="3" />
<path d="M873.5 656.1 L1030.2 669.4" fill="none" stroke="#000" stroke-width="3" />
<path d="M1156.7 636.7 L1176.0 638.0" fill="none" stroke="#000" stroke-width="3" />
<path d="M1197.0 638.5 L1253.0 640.0" fill="none" stroke="#000" stroke-width="3" />
<path d="M1325.1 643.4 L1405.1 647.4" fill="none" stroke="#000" stroke-width="3" />
<path d="M528.3 594.8 C529.7 590.1 533.3 574.8 536.7 566.5 C540.0 558.2 543.9 552.1 548.3 544.9 C552.7 537.7 557.5 530.2 563.3 523.2 C569.1 516.3 576.6 509.4 583.3 503.2 C589.9 497.1 596.0 491.9 603.3 486.6 C610.5 481.3 617.4 476.9 626.6 471.6 C635.7 466.3 647.7 459.4 658.2 455.0 C668.8 450.5 684.6 446.6 689.9 445.0" fill="none" stroke="#000" stroke-width="4.5" />
<path d="M520.0 649.8 C520.8 644.2 522.8 627.0 525.0 616.5 C527.2 605.9 530.0 595.9 533.3 586.5 C536.7 577.1 540.8 567.9 545.0 559.9 C549.1 551.8 553.0 545.4 558.3 538.2 C563.6 531.0 570.2 523.2 576.6 516.6 C583.0 509.9 589.4 504.1 596.6 498.2 C603.8 492.4 611.0 486.9 619.9 481.6 C628.8 476.3 638.2 471.5 649.9 466.6 C661.5 461.8 683.2 454.8 689.9 452.5" fill="none" stroke="#000" stroke-width="3" />
<path d="M541.6 566.5 C543.6 562.9 548.6 552.0 553.3 544.9 C558.0 537.8 563.9 530.7 570.0 524.1 C576.1 517.4 582.7 511.2 589.9 504.9 C597.2 498.7 604.9 492.3 613.3 486.6 C621.6 480.9 630.5 475.5 639.9 470.8 C649.3 466.1 661.5 461.6 669.9 458.3 C678.2 455.0 686.5 452.0 689.9 450.8" fill="none" stroke="#000" stroke-width="1.5" />
<path d="M150.8 1042.3 C151.2 1044.9 152.2 1055.0 153.3 1058.2 C154.4 1061.5 156.8 1061.0 157.5 1061.6" fill="none" stroke="#000" stroke-width="3" />
<path d="M155.8 1042.3 C155.5 1044.1 154.1 1050.6 154.1 1053.3 C154.1 1055.9 155.5 1057.4 155.8 1058.2" fill="none" stroke="#000" stroke-width="3" />
<path d="M141.6 1042.3 C141.8 1043.5 141.9 1047.0 142.5 1049.9 C143.0 1052.9 143.5 1057.3 145.0 1059.9 C146.5 1062.6 149.4 1064.6 151.6 1065.7 C153.9 1066.9 157.2 1066.4 158.3 1066.6" fill="none" stroke="#000" stroke-width="3" />
<path d="M155.8 1059.9 L274.9 1055.3" fill="none" stroke="#000" stroke-width="3" />
<path d="M181.6 1060.7 L236.6 1058.2 L277.4 1056.3" fill="none" stroke="#000" stroke-width="5" />
<path d="M283.2 1042.3 L270.7 1041.6 L261.5 1040.8 L246.6 1034.1 L203.3 1034.9 L156.6 1051.6" fill="none" stroke="#000" stroke-width="4" />
<path d="M160.0 1059.9 L183.3 1049.1 L206.6 1039.1 L236.6 1036.6 L248.2 1038.3 L263.2 1043.3 L270.7 1043.3" fill="none" stroke="#000" stroke-width="2.5" />
<path d="M179.1 1059.9 L180.8 1050.8 L183.3 1049.1" fill="none" stroke="#000" stroke-width="2.5" />
<path d="M271.5 1042.4 L271.5 1055.8" fill="none" stroke="#000" stroke-width="2.5" />
<path d="M276.5 1042.4 L275.7 1055.8" fill="none" stroke="#000" stroke-width="2.5" />
<path d="M279.9 1042.3 L279.0 1054.1" fill="none" stroke="#000" stroke-width="4" />
<path d="M279.0 1053.8 L366.5 1041.6" fill="none" stroke="#000" stroke-width="5.5" />
<path d="M286.5 1057.4 L361.5 1047.4" fill="none" stroke="#000" stroke-width="2.5" />
<path d="M369.8 1042.3 L370.6 1046.6" fill="none" stroke="#000" stroke-width="4.5" />
<path d="M278.2 1054.9 C278.3 1058.5 278.3 1068.0 279.0 1076.6 C279.7 1085.2 280.8 1098.2 282.4 1106.5 C283.9 1114.9 285.6 1121.0 288.2 1126.5 C290.8 1132.1 294.3 1136.4 298.2 1139.8 C302.1 1143.3 306.5 1145.9 311.5 1147.3 C316.5 1148.8 319.8 1149.5 328.2 1148.5 C336.5 1147.5 350.4 1144.0 361.5 1141.5 C372.6 1139.0 389.2 1134.8 394.8 1133.5" fill="none" stroke="#000" stroke-width="5.5" />
<path d="M319.0 1053.3 C319.4 1056.6 319.7 1066.6 321.5 1073.2 C323.3 1079.9 325.1 1087.1 329.8 1093.2 C334.5 1099.3 343.1 1106.1 349.8 1109.9 C356.5 1113.6 362.6 1114.3 369.8 1115.7 C377.0 1117.1 379.5 1117.6 393.1 1118.2 C406.7 1118.8 441.7 1118.9 451.4 1119.0" fill="none" stroke="#000" stroke-width="3" />
<path d="M362.3 1047.4 C363.0 1051.7 364.1 1064.8 366.5 1073.2 C368.8 1081.7 373.1 1091.6 376.4 1098.2 C379.8 1104.9 383.7 1110.1 386.4 1113.2 C389.2 1116.3 392.0 1116.0 393.1 1116.5" fill="none" stroke="#000" stroke-width="2.5" />
<path d="M368.1 1046.6 C369.0 1051.0 370.6 1064.9 373.1 1073.2 C375.6 1081.6 379.8 1090.4 383.1 1096.5 C386.4 1102.7 389.8 1107.0 393.1 1109.9 C396.4 1112.8 401.4 1113.3 403.1 1114.0" fill="none" stroke="#000" stroke-width="3" />
<path d="M160.0 624.7 C160.5 637.2 161.3 674.1 163.0 700.0 C164.7 725.9 168.8 766.7 170.0 780.0" fill="none" stroke="#000" stroke-width="3" />
<path d="M179.0 625.0 C179.4 637.5 180.3 674.2 181.7 700.0 C183.1 725.8 186.5 766.7 187.5 780.0" fill="none" stroke="#000" stroke-width="3" />
<path d="M283.0 625.0 C286.7 628.0 297.2 637.9 305.0 643.0 C312.8 648.1 325.8 653.7 330.0 655.8" fill="none" stroke="#000" stroke-width="3" />
<path d="M323.0 625.0 C325.0 626.5 331.2 631.5 335.0 634.0 C338.8 636.5 344.0 639.0 345.8 640.0" fill="none" stroke="#000" stroke-width="3" />
<path d="M366.7 625.0 L364.0 640.0" fill="none" stroke="#000" stroke-width="3" />
<path d="M421.7 625.0 L420.8 640.0" fill="none" stroke="#000" stroke-width="3" />
<path d="M455.0 625.0 L453.3 640.0" fill="none" stroke="#000" stroke-width="4" />
<path d="M1910.0 967.5 L1927.5 955.6 L1931.3 956.3 L1931.3 978.1 L2048.1 1041.3 L2049.4 1101.3 L2031.3 1112.5 L2028.1 1106.9 L2027.5 1053.8 L1910.0 989.4Z" fill="#000" stroke="#000" stroke-width="1" />
<path d="M1869.4 993.1 L1910.0 969.4 L1910.0 989.4 L2027.5 1053.8 L2028.1 1106.9 L1915.0 1046.3 L1914.4 1066.9Z" fill="#fff" stroke="#000" stroke-width="4.5" stroke-linejoin="miter"/>
<path d="M1495.0 1183.8 L1527.5 1225.0 L1508.8 1225.0 L1510.0 1255.0 L1520.0 1287.5 L1540.0 1317.5 L1562.5 1340.0 L1586.0 1352.5 L1550.0 1337.5 L1520.0 1315.0 L1492.5 1280.0 L1477.5 1247.5 L1472.5 1218.8 L1453.8 1215.0Z" fill="#000" stroke="#000" stroke-width="1" />
<path d="M1562.5 1415.0 C1562.7 1414.0 1566.2 1404.2 1567.5 1402.5 C1568.8 1400.8 1579.5 1391.5 1582.5 1390.0 C1585.5 1388.5 1607.2 1381.1 1612.5 1380.0 C1617.8 1378.9 1655.8 1374.2 1662.5 1373.8 C1669.2 1373.2 1705.0 1372.2 1712.5 1372.5 C1720.0 1372.8 1765.8 1376.2 1775.0 1377.5 C1784.2 1378.8 1842.8 1390.7 1850.0 1392.5 C1857.2 1394.3 1879.3 1403.3 1882.5 1405.0 C1885.7 1406.7 1896.6 1416.3 1897.5 1417.5 C1898.4 1418.7 1896.9 1422.1 1896.2 1422.5 C1895.6 1422.9 1898.9 1423.9 1887.5 1423.8 C1876.1 1423.6 1746.5 1421.0 1725.0 1420.5 C1703.5 1420.0 1575.8 1417.1 1565.0 1416.8 C1554.2 1416.4 1562.3 1416.0 1562.5 1415.0Z" fill="url(#mesh)" stroke="#000" stroke-width="4"/>
<path d="M1553.8 1441.2 C1565.5 1439.7 1701.9 1443.4 1725.0 1443.8 C1748.1 1444.1 1888.2 1445.5 1900.0 1446.2 C1911.8 1447.0 1902.5 1451.1 1902.5 1455.0 C1902.5 1458.9 1900.4 1500.5 1900.0 1505.0 C1899.6 1509.5 1896.9 1521.2 1896.2 1522.5 C1895.6 1523.8 1901.4 1525.1 1890.0 1525.0 C1878.6 1524.9 1747.2 1521.8 1725.0 1521.2 C1702.8 1520.8 1569.4 1518.1 1557.5 1517.5 C1545.6 1516.9 1546.8 1515.8 1546.2 1512.5 C1545.7 1509.2 1548.2 1472.2 1548.8 1467.5 C1549.2 1462.8 1542.0 1442.8 1553.8 1441.2Z" fill="url(#mesh)" stroke="#000" stroke-width="4"/>
<path d="M1582.5 1341.2 C1586.7 1336.5 1596.2 1321.5 1607.5 1312.5 C1618.8 1303.5 1630.4 1296.7 1650.0 1287.5 C1669.6 1278.3 1695.8 1267.1 1725.0 1257.5 C1754.2 1247.9 1795.8 1237.5 1825.0 1230.0 C1854.2 1222.5 1880.8 1217.7 1900.0 1212.5 C1919.2 1207.3 1927.9 1203.5 1940.0 1198.8 C1952.1 1194.0 1967.1 1186.2 1972.5 1183.8" fill="none" stroke="#000" stroke-width="3.5" />
<path d="M1972.5 1183.8 L1942.5 1197.5 L1981.0 1201.2" fill="none" stroke="#000" stroke-width="3.5" />
<path d="M1712.5 1347.5 C1716.7 1342.5 1725.0 1326.7 1737.5 1317.5 C1750.0 1308.3 1764.6 1301.2 1787.5 1292.5 C1810.4 1283.8 1842.8 1274.2 1875.0 1265.0 C1907.2 1255.8 1963.3 1242.1 1981.0 1237.5" fill="none" stroke="#000" stroke-width="3.5" />
<path d="M1545.0 1515.0 C1545.4 1505.0 1545.8 1471.2 1547.5 1455.0 C1549.2 1438.8 1552.1 1428.3 1555.0 1417.5 C1557.9 1406.7 1560.8 1397.1 1565.0 1390.0 C1569.2 1382.9 1572.9 1379.4 1580.0 1375.0 C1587.1 1370.6 1595.8 1367.1 1607.5 1363.8 C1619.2 1360.4 1633.3 1357.3 1650.0 1355.0 C1666.7 1352.7 1686.7 1350.0 1707.5 1350.0 C1728.3 1350.0 1751.2 1351.7 1775.0 1355.0 C1798.8 1358.3 1830.8 1365.4 1850.0 1370.0 C1869.2 1374.6 1880.0 1377.5 1890.0 1382.5 C1900.0 1387.5 1905.0 1392.9 1910.0 1400.0 C1915.0 1407.1 1918.1 1415.8 1920.0 1425.0 C1921.9 1434.2 1921.7 1443.8 1921.2 1455.0 C1920.8 1466.2 1919.0 1481.7 1917.5 1492.5 C1916.0 1503.3 1913.3 1515.4 1912.5 1520.0" fill="none" stroke="#000" stroke-width="5.5" />
<path d="M1481.2 1505.0 C1482.3 1498.8 1484.4 1479.2 1487.5 1467.5 C1490.6 1455.8 1495.0 1445.0 1500.0 1435.0 C1505.0 1425.0 1511.2 1415.4 1517.5 1407.5 C1523.8 1399.6 1530.0 1393.3 1537.5 1387.5 C1545.0 1381.7 1556.7 1377.3 1562.5 1372.5 C1568.3 1367.7 1570.8 1361.0 1572.5 1358.8" fill="none" stroke="#000" stroke-width="3" />
<path d="M1537.5 1387.5 C1538.8 1388.8 1543.3 1392.1 1545.0 1395.0 C1546.7 1397.9 1548.3 1397.1 1547.5 1405.0 C1546.7 1412.9 1542.9 1428.8 1540.0 1442.5 C1537.1 1456.2 1532.9 1478.3 1530.0 1487.5 C1527.1 1496.7 1525.8 1495.2 1522.5 1497.5 C1519.2 1499.8 1516.0 1501.2 1510.0 1501.2 C1504.0 1501.2 1490.2 1498.1 1486.2 1497.5" fill="none" stroke="#000" stroke-width="4" />
<path d="M1562.5 1372.5 C1561.2 1376.2 1558.1 1383.3 1555.0 1395.0 C1551.9 1406.7 1547.1 1424.2 1543.8 1442.5 C1540.4 1460.8 1536.5 1494.6 1535.0 1505.0" fill="none" stroke="#000" stroke-width="3" />
<path d="M1572.5 1360.0 C1570.4 1364.2 1563.8 1376.7 1560.0 1385.0 C1556.2 1393.3 1552.7 1398.3 1550.0 1410.0 C1547.3 1421.7 1545.4 1437.5 1543.8 1455.0 C1542.1 1472.5 1540.6 1505.0 1540.0 1515.0" fill="none" stroke="#000" stroke-width="2.5" />
<path d="M1472.5 1507.5 L1540.0 1513.8" fill="none" stroke="#000" stroke-width="3" />
<path d="M1480.0 1505.0 L1535.0 1510.0" fill="none" stroke="#000" stroke-width="3" />
<path d="M1470.0 1512.5 C1483.3 1513.5 1520.0 1517.1 1550.0 1518.8 C1580.0 1520.4 1622.5 1521.7 1650.0 1522.5 C1677.5 1523.3 1704.2 1523.5 1715.0 1523.8" fill="none" stroke="#000" stroke-width="4" />
<path d="M1715.0 1525.0 L1890.0 1526.2" fill="none" stroke="#000" stroke-width="6" />
<path d="M1418.8 1573.5 C1418.5 1568.3 1416.5 1549.3 1417.5 1542.5 C1418.5 1535.7 1420.4 1535.2 1425.0 1532.5 C1429.6 1529.8 1437.1 1529.2 1445.0 1526.2 C1452.9 1523.3 1466.7 1518.1 1472.5 1515.0 C1478.3 1511.9 1478.8 1508.8 1480.0 1507.5" fill="none" stroke="#000" stroke-width="3.5" />
<path d="M1445.0 1527.5 C1449.6 1526.2 1464.6 1521.5 1472.5 1520.0 C1480.4 1518.5 1489.0 1517.9 1492.5 1518.8 C1496.0 1519.6 1496.7 1521.5 1493.8 1525.0 C1490.8 1528.5 1480.2 1535.8 1475.0 1540.0 C1469.8 1544.2 1465.2 1544.4 1462.5 1550.0 C1459.8 1555.6 1459.4 1569.6 1458.8 1573.5" fill="none" stroke="#000" stroke-width="3.5" />
<path d="M1441.2 1573.5 C1441.0 1568.3 1441.9 1548.3 1440.0 1542.5 C1438.1 1536.7 1433.3 1538.8 1430.0 1538.8 C1426.7 1538.8 1421.7 1541.9 1420.0 1542.5" fill="none" stroke="#000" stroke-width="3.5" />
<path d="M1442.5 1556.2 L1455.0 1556.2" fill="none" stroke="#000" stroke-width="3" />
<path d="M1912.5 1512.5 L1981.0 1510.0" fill="none" stroke="#000" stroke-width="5" />
<path d="M1955.0 1512.5 L1981.0 1455.0" fill="none" stroke="#000" stroke-width="4.5" />
<path d="M1910.0 1521.2 L1981.0 1518.8" fill="none" stroke="#000" stroke-width="3" />
<path d="M1875.0 1573.5 C1875.4 1569.6 1875.0 1556.4 1877.5 1550.0 C1880.0 1543.6 1882.1 1538.8 1890.0 1535.0 C1897.9 1531.2 1911.7 1528.5 1925.0 1527.5 C1938.3 1526.5 1961.2 1527.5 1970.0 1528.8 C1978.8 1530.0 1977.1 1531.9 1977.5 1535.0 C1977.9 1538.1 1975.0 1543.3 1972.5 1547.5 C1970.0 1551.7 1964.6 1555.7 1962.5 1560.0 C1960.4 1564.3 1960.4 1571.2 1960.0 1573.5" fill="none" stroke="#000" stroke-width="3.5" />
<path d="M1882.5 1573.5 C1882.7 1570.4 1881.7 1559.3 1883.8 1555.0 C1885.8 1550.7 1888.1 1549.0 1895.0 1547.5 C1901.9 1546.0 1918.3 1545.4 1925.0 1546.2 C1931.7 1547.1 1932.9 1548.0 1935.0 1552.5 C1937.1 1557.0 1937.1 1570.0 1937.5 1573.5" fill="none" stroke="#000" stroke-width="4" />
<path d="M1970.0 1370.0 L1981.0 1368.8" fill="none" stroke="#000" stroke-width="3" />
<path d="M1981.0 1200.0 C2004.8 1200.8 2073.5 1204.0 2123.5 1205.0 C2173.5 1206.0 2225.6 1206.0 2281.0 1206.2 C2336.4 1206.5 2409.2 1207.5 2456.0 1206.2 C2502.8 1205.0 2544.3 1200.0 2562.0 1198.8" fill="none" stroke="#000" stroke-width="4" />
<path d="M1981.0 1238.0 L2123.5 1205.0" fill="none" stroke="#000" stroke-width="2.5" />
<path d="M1981.0 1367.5 C2010.2 1361.7 2097.7 1342.5 2156.0 1332.5 C2214.3 1322.5 2263.3 1315.4 2331.0 1307.5 C2398.7 1299.6 2523.5 1288.8 2562.0 1285.0" fill="none" stroke="#000" stroke-width="3.5" />
<path d="M2013.5 1415.0 C2018.5 1412.1 2030.2 1403.3 2043.5 1397.5 C2056.8 1391.7 2070.6 1386.2 2093.5 1380.0 C2116.4 1373.8 2149.8 1365.6 2181.0 1360.0 C2212.2 1354.4 2243.5 1350.0 2281.0 1346.2 C2318.5 1342.5 2359.2 1339.4 2406.0 1337.5 C2452.8 1335.6 2536.0 1335.4 2562.0 1335.0" fill="none" stroke="#000" stroke-width="5.5" />
<path d="M1981.0 1462.5 C1983.5 1457.9 1990.6 1442.9 1996.0 1435.0 C2001.4 1427.1 2010.6 1418.3 2013.5 1415.0" fill="none" stroke="#000" stroke-width="4" />
<path d="M1981.0 1453.8 L2012.2 1418.8" fill="none" stroke="#000" stroke-width="2.5" />
<path d="M2013.5 1417.5 L2046.0 1417.5" fill="none" stroke="#000" stroke-width="4" />
<path d="M2046.0 1417.5 C2053.1 1415.0 2066.8 1409.2 2081.0 1406.2 C2095.2 1403.3 2112.2 1401.0 2131.0 1400.0 C2149.8 1399.0 2176.8 1399.2 2193.5 1400.0 C2210.2 1400.8 2221.0 1402.5 2231.0 1405.0 C2241.0 1407.5 2248.5 1410.8 2253.5 1415.0 C2258.5 1419.2 2260.6 1423.3 2261.0 1430.0 C2261.4 1436.7 2259.3 1446.7 2256.0 1455.0 C2252.7 1463.3 2247.2 1472.9 2241.0 1480.0 C2234.8 1487.1 2228.5 1492.9 2218.5 1497.5 C2208.5 1502.1 2199.8 1505.0 2181.0 1507.5 C2162.2 1510.0 2133.1 1511.7 2106.0 1512.5 C2078.9 1513.3 2036.4 1513.3 2018.5 1512.5 C2000.6 1511.7 2002.7 1510.4 1998.5 1507.5 C1994.3 1504.6 1993.1 1501.7 1993.5 1495.0 C1993.9 1488.3 1996.8 1476.2 2001.0 1467.5 C2005.2 1458.8 2012.2 1450.2 2018.5 1442.5 C2024.8 1434.8 2033.9 1425.4 2038.5 1421.2 C2043.1 1417.1 2038.9 1420.0 2046.0 1417.5Z" fill="none" stroke="#000" stroke-width="5" />
<path d="M2253.5 1411.2 C2258.1 1411.5 2272.2 1411.7 2281.0 1412.5 C2289.8 1413.3 2300.6 1415.0 2306.0 1416.2 C2311.4 1417.5 2312.2 1419.4 2313.5 1420.0" fill="none" stroke="#000" stroke-width="4.5" />
<path d="M2313.5 1417.5 C2320.6 1415.4 2336.4 1408.8 2356.0 1405.0 C2375.6 1401.2 2406.0 1397.3 2431.0 1395.0 C2456.0 1392.7 2484.2 1391.9 2506.0 1391.2 C2527.8 1390.6 2552.7 1391.2 2562.0 1391.2" fill="none" stroke="#000" stroke-width="3" />
<path d="M2311.0 1420.0 C2308.1 1422.1 2299.3 1426.7 2293.5 1432.5 C2287.7 1438.3 2281.4 1445.8 2276.0 1455.0 C2270.6 1464.2 2265.6 1475.0 2261.0 1487.5 C2256.4 1500.0 2251.8 1515.7 2248.5 1530.0 C2245.2 1544.3 2242.2 1566.2 2241.0 1573.5" fill="none" stroke="#000" stroke-width="4.5" />
<path d="M2313.5 1420.0 C2316.4 1423.8 2325.0 1433.8 2331.0 1442.5 C2337.0 1451.2 2346.6 1467.5 2349.8 1472.5" fill="none" stroke="#000" stroke-width="4.5" />
<path d="M2281.0 1573.5 C2283.5 1566.2 2289.8 1543.1 2296.0 1530.0 C2302.2 1516.9 2309.8 1505.0 2318.5 1495.0 C2327.2 1485.0 2336.0 1477.1 2348.5 1470.0 C2361.0 1462.9 2377.7 1456.7 2393.5 1452.5 C2409.3 1448.3 2426.8 1446.2 2443.5 1445.0 C2460.2 1443.8 2478.9 1444.0 2493.5 1445.0 C2508.1 1446.0 2519.6 1448.8 2531.0 1451.2 C2542.4 1453.8 2556.8 1458.5 2562.0 1460.0" fill="none" stroke="#000" stroke-width="4.5" />
<path d="M2453.5 1446.2 C2456.4 1449.0 2464.8 1454.4 2471.0 1462.5 C2477.2 1470.6 2484.3 1482.9 2491.0 1495.0 C2497.7 1507.1 2505.2 1524.2 2511.0 1535.0 C2516.8 1545.8 2521.0 1554.2 2526.0 1560.0 C2531.0 1565.8 2536.4 1567.8 2541.0 1570.0 C2545.6 1572.2 2551.4 1572.9 2553.5 1573.5" fill="none" stroke="#000" stroke-width="3" />
<path d="M2461.0 1446.2 C2464.3 1449.8 2474.3 1457.7 2481.0 1467.5 C2487.7 1477.3 2494.8 1492.9 2501.0 1505.0 C2507.2 1517.1 2513.1 1530.4 2518.5 1540.0 C2523.9 1549.6 2528.9 1557.3 2533.5 1562.5 C2538.1 1567.7 2543.9 1569.8 2546.0 1571.2" fill="none" stroke="#000" stroke-width="2.5" />
<path d="M2476.0 1446.2 C2480.2 1450.2 2493.1 1461.0 2501.0 1470.0 C2508.9 1479.0 2517.2 1490.0 2523.5 1500.0 C2529.8 1510.0 2534.3 1520.8 2538.5 1530.0 C2542.7 1539.2 2546.0 1547.8 2548.5 1555.0 C2551.0 1562.2 2552.7 1570.4 2553.5 1573.5" fill="none" stroke="#000" stroke-width="3" />
<path d="M2521.0 1497.5 L2562.0 1486.2" fill="none" stroke="#000" stroke-width="5" />
<path d="M2543.5 1457.5 C2545.2 1460.4 2550.4 1470.0 2553.5 1475.0 C2556.6 1480.0 2560.6 1485.4 2562.0 1487.5" fill="none" stroke="#000" stroke-width="3" />
<path d="M2548.5 1456.2 L2562.0 1467.5" fill="none" stroke="#000" stroke-width="2.5" />
<path d="M1981.0 1513.8 C1999.8 1514.0 2062.2 1514.2 2093.5 1515.0 C2124.8 1515.8 2149.8 1516.2 2168.5 1518.8 C2187.2 1521.2 2194.8 1526.0 2206.0 1530.0 C2217.2 1534.0 2230.0 1539.2 2236.0 1542.5 C2242.0 1545.8 2241.2 1548.8 2242.2 1550.0" fill="none" stroke="#000" stroke-width="4" />
<path d="M1981.0 1522.5 L2093.5 1517.5" fill="none" stroke="#000" stroke-width="2.5" />
<path d="M2207.2 1573.5 C2207.2 1571.7 2206.2 1565.6 2207.2 1562.5 C2208.3 1559.4 2209.5 1556.2 2213.5 1555.0 C2217.5 1553.8 2226.8 1554.4 2231.0 1555.0 C2235.2 1555.6 2237.2 1558.1 2238.5 1558.8" fill="none" stroke="#000" stroke-width="5" />
<path d="M2562.0 1198.7 L2583.4 1193.1" fill="none" stroke="#000" stroke-width="4" />
<path d="M2583.4 1193.1 C2584.4 1194.5 2586.3 1193.1 2589.9 1201.8 C2593.5 1210.5 2600.4 1231.6 2605.2 1245.4 C2609.9 1259.2 2615.0 1272.3 2618.2 1284.6 C2621.5 1297.0 2623.5 1310.4 2624.8 1319.5 C2626.1 1328.6 2625.9 1335.8 2626.1 1339.1" fill="none" stroke="#000" stroke-width="4.5" />
<path d="M2562.0 1285.9 L2616.0 1281.1" fill="none" stroke="#000" stroke-width="3.5" />
<path d="M2562.0 1335.2 C2569.2 1335.6 2594.5 1336.9 2605.2 1337.8 C2615.8 1338.7 2622.6 1340.0 2626.1 1340.4" fill="none" stroke="#000" stroke-width="5" />
<path d="M2626.1 1340.4 C2628.0 1344.2 2634.4 1353.5 2637.8 1363.1 C2641.3 1372.7 2644.4 1384.9 2646.6 1398.0 C2648.7 1411.0 2649.5 1423.4 2650.9 1441.6 C2652.4 1459.7 2653.8 1485.2 2655.3 1506.9 C2656.7 1528.7 2658.6 1550.5 2659.6 1572.3 C2660.7 1594.1 2661.6 1619.6 2661.8 1637.7 C2662.0 1655.9 2661.5 1670.1 2660.9 1681.3 C2660.4 1692.6 2658.8 1701.3 2658.3 1705.3" fill="none" stroke="#000" stroke-width="3.5" />
<path d="M2562.0 1391.0 L2631.3 1393.6" fill="none" stroke="#000" stroke-width="3" />
<path d="M2531.0 1451.1 C2536.2 1452.6 2554.0 1456.4 2562.0 1459.9 C2570.0 1463.4 2573.3 1466.4 2579.0 1472.1 C2584.7 1477.7 2591.3 1484.4 2596.4 1493.9 C2601.5 1503.3 2605.9 1515.7 2609.5 1528.7 C2613.1 1541.8 2615.7 1557.8 2618.2 1572.3 C2620.8 1586.9 2623.3 1601.4 2624.8 1615.9 C2626.2 1630.5 2626.9 1645.0 2626.9 1659.5 C2626.9 1674.1 2625.1 1695.8 2624.8 1703.1" fill="none" stroke="#000" stroke-width="3" />
<path d="M2544.1 1452.5 C2548.5 1455.4 2562.3 1462.3 2570.3 1469.9 C2578.3 1477.5 2586.3 1487.0 2592.1 1498.2 C2597.9 1509.5 2601.5 1523.7 2605.2 1537.5 C2608.8 1551.3 2611.3 1566.5 2613.9 1581.1 C2616.4 1595.6 2619.0 1610.1 2620.4 1624.6 C2621.9 1639.2 2622.6 1655.5 2622.6 1668.2 C2622.6 1681.0 2620.8 1695.5 2620.4 1700.9" fill="none" stroke="#000" stroke-width="2.5" />
<path d="M2553.7 1573.6 C2555.0 1580.7 2559.4 1601.6 2561.6 1615.9 C2563.7 1630.2 2565.7 1649.7 2566.8 1659.5 C2567.9 1669.3 2567.9 1672.2 2568.1 1674.8" fill="none" stroke="#000" stroke-width="3" />
<path d="M2546.3 1459.0 C2548.8 1463.4 2556.1 1473.5 2561.6 1485.2 C2567.0 1496.8 2573.9 1510.6 2579.0 1528.7 C2584.1 1546.9 2588.8 1572.3 2592.1 1594.1 C2595.3 1615.9 2597.2 1642.1 2598.6 1659.5 C2600.1 1677.0 2600.4 1692.2 2600.8 1698.8" fill="none" stroke="#000" stroke-width="3" />
<path d="M2572.5 1467.7 C2575.0 1475.0 2583.0 1493.9 2587.7 1511.3 C2592.4 1528.7 2597.9 1554.9 2600.8 1572.3 C2603.7 1589.8 2604.1 1594.9 2605.2 1615.9 C2606.2 1637.0 2607.0 1685.0 2607.3 1698.8" fill="none" stroke="#000" stroke-width="2.5" />
<path d="M2568.1 1674.8 L2600.8 1666.1" fill="none" stroke="#000" stroke-width="3" />
<path d="M2568.1 1674.8 C2567.2 1677.0 2557.9 1693.1 2557.2 1700.9 C2556.5 1708.7 2557.2 1763.1 2559.4 1768.5 C2561.6 1774.0 2579.5 1767.4 2583.4 1766.3 C2587.2 1765.2 2602.8 1758.2 2605.2 1755.4 C2607.5 1752.7 2610.9 1738.0 2611.7 1733.6 C2612.5 1729.3 2614.5 1705.7 2614.7 1703.1" fill="none" stroke="#000" stroke-width="3.5" />
<path d="M2557.2 1700.9 L2614.7 1703.1 L2658.3 1705.3" fill="none" stroke="#000" stroke-width="4" />
<circle cx="2584.2" cy="1744.6" r="5.5" fill="#000"/>
<ellipse cx="2605.2" cy="1560.6" rx="3" ry="4.5" fill="none" stroke="#000" stroke-width="2"/>
<ellipse cx="2611.7" cy="1671.8" rx="3.5" ry="5" fill="none" stroke="#000" stroke-width="2"/>
<path d="M2616.0 1707.5 L2616.0 1729.3 L2633.5 1729.3 L2633.5 1709.7" fill="none" stroke="#000" stroke-width="2.5" />
<path d="M2620.4 1709.7 L2629.1 1709.7 L2629.1 1728.4 L2620.4 1728.4Z" fill="#000" stroke="#000" stroke-width="1" />
<path d="M1420.0 1539.5 C1421.2 1537.8 1428.1 1537.4 1430.0 1537.5 C1431.9 1537.6 1437.6 1539.0 1438.8 1540.8 C1439.9 1542.5 1441.1 1546.4 1441.2 1554.5 C1441.4 1562.6 1440.5 1614.5 1440.0 1622.0 C1439.5 1629.5 1437.8 1628.6 1436.2 1629.5 C1434.8 1630.4 1426.8 1631.2 1425.0 1630.8 C1423.2 1630.2 1418.9 1627.9 1418.0 1624.5 C1417.1 1621.1 1416.3 1604.0 1416.2 1597.0 C1416.2 1590.0 1417.1 1560.2 1417.5 1554.5 C1417.9 1548.8 1418.8 1541.2 1420.0 1539.5Z" fill="none" stroke="#000" stroke-width="3.5" />
<path d="M1442.5 1557.0 L1455.5 1557.0" fill="none" stroke="#000" stroke-width="3" />
<path d="M1441.2 1614.0 L1453.8 1614.0" fill="none" stroke="#000" stroke-width="3" />
<path d="M1423.8 1633.2 C1427.6 1634.6 1454.9 1645.1 1462.5 1647.0 C1470.1 1648.9 1488.8 1651.1 1500.0 1652.0 C1511.2 1652.9 1555.0 1655.2 1575.0 1655.8 C1595.0 1656.2 1672.5 1656.9 1700.0 1657.0 C1727.5 1657.1 1821.9 1657.2 1850.0 1657.0 C1878.1 1656.8 1967.9 1654.8 1981.0 1654.5" fill="none" stroke="#000" stroke-width="3.5" />
<path d="M1458.8 1573.5 C1458.5 1577.4 1457.0 1588.1 1457.0 1597.0 C1457.0 1605.9 1457.6 1619.1 1458.8 1627.0 C1459.9 1634.9 1462.9 1641.6 1463.8 1644.5" fill="none" stroke="#000" stroke-width="3.5" />
<path d="M1415.0 1577.0 C1414.9 1582.8 1414.1 1603.7 1414.5 1612.0 C1414.9 1620.3 1416.0 1623.5 1417.5 1627.0 C1419.0 1630.5 1422.7 1632.2 1423.8 1633.2" fill="none" stroke="#000" stroke-width="3" />
<path d="M1500.0 1587.0 C1507.5 1587.0 1555.0 1587.4 1575.0 1587.5 C1595.0 1587.6 1678.5 1587.9 1700.0 1588.2 C1721.5 1588.6 1779.0 1589.9 1790.0 1590.8 C1801.0 1591.6 1806.8 1594.9 1810.0 1597.0 C1813.2 1599.1 1820.8 1608.5 1822.5 1612.0 C1824.2 1615.5 1826.2 1628.5 1827.5 1632.0 C1828.8 1635.5 1832.8 1644.6 1835.0 1647.0 C1837.2 1649.4 1847.2 1654.6 1850.0 1655.8 C1852.8 1656.9 1861.2 1658.0 1862.5 1658.2" fill="none" stroke="#000" stroke-width="5.5" />
<path d="M1500.0 1587.0 C1499.0 1587.8 1491.4 1592.2 1490.0 1594.5 C1488.6 1596.8 1486.5 1605.8 1486.2 1609.5 C1486.0 1613.2 1486.6 1628.2 1487.5 1632.0 C1488.4 1635.8 1493.0 1645.1 1495.0 1647.0 C1497.0 1648.9 1499.5 1649.9 1507.5 1650.8 C1515.5 1651.6 1568.2 1655.2 1575.0 1655.8" fill="none" stroke="#000" stroke-width="5" />
<path d="M1487.5 1608.2 L1575.0 1610.0 L1700.0 1613.2 L1822.5 1615.0" fill="none" stroke="#000" stroke-width="3.5" />
<path d="M1631.2 1574.5 L1631.2 1609.5" fill="none" stroke="#000" stroke-width="5" />
<path d="M1631.2 1622.0 L1635.0 1639.5" fill="none" stroke="#000" stroke-width="5" />
<path d="M1560.0 1573.2 L1581.2 1573.2 L1580.5 1579.5" fill="none" stroke="#000" stroke-width="3" />
<circle cx="1578.8" cy="1580.2" r="2" fill="#000"/>
<path d="M1690.0 1575.8 L1718.8 1575.0" fill="none" stroke="#000" stroke-width="3" />
<circle cx="1692.0" cy="1580.2" r="2.2" fill="#000"/>
<path d="M1557.5 1655.8 C1558.2 1657.4 1563.2 1669.1 1565.0 1672.0 C1566.8 1674.9 1571.5 1682.5 1575.0 1684.5 C1578.5 1686.5 1592.5 1690.9 1600.0 1692.0 C1607.5 1693.1 1635.0 1695.2 1650.0 1695.8 C1665.0 1696.2 1729.2 1697.1 1750.0 1697.0 C1770.8 1696.9 1846.8 1694.8 1857.5 1694.5" fill="none" stroke="#000" stroke-width="3.5" />
<path d="M1577.5 1655.8 L1572.5 1682.0" fill="none" stroke="#000" stroke-width="3" />
<path d="M1646.2 1652.5 L1643.8 1694.5" fill="none" stroke="#000" stroke-width="8" />
<path d="M1647.5 1679.5 L1671.2 1694.5" fill="none" stroke="#000" stroke-width="3" />
<path d="M1850.0 1658.2 L1857.5 1693.2" fill="none" stroke="#000" stroke-width="4" />
<path d="M1867.5 1659.5 L1872.5 1687.0" fill="none" stroke="#000" stroke-width="3" />
<path d="M1877.5 1659.5 L1878.8 1682.0" fill="none" stroke="#000" stroke-width="3" />
<path d="M1885.0 1658.2 L1883.8 1684.5" fill="none" stroke="#000" stroke-width="3" />
<circle cx="1860.0" cy="1663.2" r="3" fill="none" stroke="#000" stroke-width="2"/>
<path d="M1857.5 1690.0 L1880.0 1692.0" fill="none" stroke="#000" stroke-width="5" />
<path d="M1880.0 1689.5 C1881.2 1688.2 1885.8 1682.8 1887.5 1682.0 C1889.2 1681.2 1890.0 1681.2 1890.0 1684.5 C1890.0 1687.8 1890.0 1697.0 1887.5 1702.0 C1885.0 1707.0 1881.2 1711.6 1875.0 1714.5 C1868.8 1717.4 1854.6 1718.5 1850.0 1719.5 C1845.4 1720.5 1847.9 1720.5 1847.5 1720.8" fill="none" stroke="#000" stroke-width="3" />
<path d="M1847.5 1712.0 C1852.1 1711.6 1869.2 1712.0 1875.0 1709.5 C1880.8 1707.0 1881.2 1699.1 1882.5 1697.0" fill="none" stroke="#000" stroke-width="2.5" />
<path d="M1858.8 1697.0 L1852.5 1705.8" fill="none" stroke="#000" stroke-width="2.5" />
<path d="M1506.2 1675.8 C1507.7 1675.1 1511.9 1669.7 1515.0 1672.0 C1518.1 1674.3 1520.8 1684.5 1525.0 1689.5 C1529.2 1694.5 1535.2 1699.1 1540.0 1702.0 C1544.8 1704.9 1551.5 1706.2 1553.8 1707.0" fill="none" stroke="#000" stroke-width="3" />
<path d="M1506.2 1675.8 C1507.4 1677.9 1514.9 1693.5 1517.5 1697.0 C1520.1 1700.5 1529.2 1708.8 1532.5 1710.8 C1535.8 1712.8 1538.2 1715.8 1550.0 1717.0 C1561.8 1718.2 1630.0 1722.5 1650.0 1723.2 C1670.0 1724.0 1730.2 1724.8 1750.0 1724.5 C1769.8 1724.2 1837.8 1721.1 1847.5 1720.8" fill="none" stroke="#000" stroke-width="3.5" />
<path d="M1550.0 1717.0 L1551.2 1708.2" fill="none" stroke="#000" stroke-width="3" />
<path d="M1521.2 1670.8 L1548.8 1659.0" fill="none" stroke="#000" stroke-width="3" />
<path d="M1555.0 1707.0 L1583.8 1693.2" fill="none" stroke="#000" stroke-width="3" />
<path d="M1440.0 1644.5 C1440.4 1649.1 1440.8 1662.4 1442.5 1672.0 C1444.2 1681.6 1447.1 1693.7 1450.0 1702.0 C1452.9 1710.3 1456.5 1717.0 1460.0 1722.0 C1463.5 1727.0 1468.8 1732.0 1471.2 1732.0 C1473.8 1732.0 1474.8 1727.8 1475.0 1722.0 C1475.2 1716.2 1474.2 1706.2 1472.5 1697.0 C1470.8 1687.8 1467.5 1675.3 1465.0 1667.0 C1462.5 1658.7 1458.8 1650.3 1457.5 1647.0" fill="#fff" stroke="#000" stroke-width="4.5" />
<path d="M1442.0 1647.0 C1442.6 1652.0 1443.6 1667.4 1445.5 1677.0 C1447.4 1686.6 1450.6 1696.8 1453.5 1704.5 C1456.4 1712.2 1460.2 1718.9 1463.0 1723.2 C1465.8 1727.6 1469.2 1729.5 1470.5 1730.8" fill="none" stroke="#000" stroke-width="11" />
<path d="M1447.5 1655.8 L1460.8 1657.2" fill="none" stroke="#000" stroke-width="6.5" stroke-linecap="butt"/>
<path d="M1448.8 1668.2 L1464.5 1669.8" fill="none" stroke="#000" stroke-width="6.5" stroke-linecap="butt"/>
<path d="M1451.2 1680.8 L1468.0 1682.2" fill="none" stroke="#000" stroke-width="6.5" stroke-linecap="butt"/>
<path d="M1453.8 1693.2 L1471.0 1694.8" fill="none" stroke="#000" stroke-width="6.5" stroke-linecap="butt"/>
<path d="M1457.5 1705.8 L1473.0 1707.2" fill="none" stroke="#000" stroke-width="6.5" stroke-linecap="butt"/>
<path d="M1462.5 1717.5 L1474.2 1719.0" fill="none" stroke="#000" stroke-width="6.5" stroke-linecap="butt"/>
<path d="M1465.0 1730.8 C1465.5 1731.9 1468.5 1740.1 1470.0 1742.0 C1471.5 1743.9 1477.0 1748.4 1480.0 1749.5 C1483.0 1750.6 1483.0 1752.5 1500.0 1753.2 C1517.0 1754.0 1615.0 1756.1 1650.0 1757.0 C1685.0 1757.9 1816.9 1761.5 1850.0 1762.0 C1883.1 1762.5 1967.9 1762.0 1981.0 1762.0" fill="none" stroke="#000" stroke-width="3.5" />
<path d="M1513.8 1755.8 L1513.8 1777.0 L1516.2 1779.0 L1700.0 1783.2 L1981.0 1787.0" fill="none" stroke="#000" stroke-width="4.5" />
<path d="M1960.0 1573.5 C1960.1 1578.3 1961.0 1614.7 1961.2 1622.0 C1961.5 1629.3 1963.6 1644.0 1962.5 1647.0 C1961.4 1650.0 1955.0 1652.0 1950.0 1652.0 C1945.0 1652.0 1918.8 1648.0 1912.5 1647.0 C1906.2 1646.0 1891.0 1643.5 1887.5 1642.0 C1884.0 1640.5 1878.9 1636.5 1877.5 1632.0 C1876.1 1627.5 1874.0 1602.8 1873.8 1597.0 C1873.5 1591.2 1874.9 1575.8 1875.0 1573.5" fill="none" stroke="#000" stroke-width="3.5" />
<path d="M1937.5 1573.5 C1937.5 1578.3 1938.0 1615.9 1937.5 1622.0 C1937.0 1628.1 1935.0 1632.8 1932.5 1634.5 C1930.0 1636.2 1916.8 1639.2 1912.5 1639.5 C1908.2 1639.8 1892.9 1638.2 1890.0 1637.0 C1887.1 1635.8 1884.6 1631.0 1883.8 1627.0 C1882.9 1623.0 1881.4 1602.3 1881.2 1597.0 C1881.1 1591.7 1882.4 1575.8 1882.5 1573.5" fill="none" stroke="#000" stroke-width="4" />
<path d="M1937.5 1619.5 L1953.8 1622.0" fill="none" stroke="#000" stroke-width="3" />
<path d="M1966.2 1658.2 C1966.5 1662.6 1965.0 1675.5 1967.5 1684.5 C1970.0 1693.5 1978.8 1707.4 1981.0 1712.0" fill="none" stroke="#000" stroke-width="3.5" />
<path d="M2241.0 1573.5 C2239.3 1581.6 2234.3 1605.6 2231.0 1622.0 C2227.7 1638.4 2224.3 1655.3 2221.0 1672.0 C2217.7 1688.7 2213.9 1709.1 2211.0 1722.0 C2208.1 1734.9 2206.0 1742.8 2203.5 1749.5 C2201.0 1756.2 2197.2 1759.9 2196.0 1762.0" fill="none" stroke="#000" stroke-width="3" />
<path d="M2242.2 1547.0 L2227.2 1627.0" fill="none" stroke="#000" stroke-width="5.5" />
<path d="M2281.0 1573.5 C2279.3 1581.6 2274.8 1603.5 2271.0 1622.0 C2267.2 1640.5 2261.8 1667.8 2258.5 1684.5 C2255.2 1701.2 2253.1 1712.0 2251.0 1722.0 C2248.9 1732.0 2248.1 1738.7 2246.0 1744.5 C2243.9 1750.3 2241.8 1753.9 2238.5 1757.0 C2235.2 1760.1 2229.8 1762.0 2226.0 1763.2 C2222.2 1764.5 2217.7 1764.3 2216.0 1764.5" fill="none" stroke="#000" stroke-width="4" />
<path d="M2211.0 1554.5 C2212.7 1554.0 2230.4 1553.7 2232.2 1554.0 C2234.1 1554.3 2239.0 1554.6 2238.5 1559.5 C2238.0 1564.4 2226.7 1622.4 2224.8 1627.0 C2222.8 1631.6 2211.1 1628.6 2209.8 1628.2 C2208.4 1627.9 2205.4 1626.5 2205.2 1622.0 C2205.1 1617.5 2206.4 1565.2 2206.8 1560.8 C2207.1 1556.2 2209.3 1555.0 2211.0 1554.5Z" fill="none" stroke="#000" stroke-width="5" />
<path d="M2224.8 1629.5 C2217.5 1631.6 2200.8 1638.5 2181.0 1642.0 C2161.2 1645.5 2125.2 1649.1 2106.0 1650.8 C2086.8 1652.4 2072.7 1651.8 2066.0 1652.0" fill="none" stroke="#000" stroke-width="4.5" />
<path d="M1981.0 1655.8 C1988.1 1656.2 2009.3 1658.9 2023.5 1658.2 C2037.7 1657.6 2058.9 1653.0 2066.0 1652.0" fill="none" stroke="#000" stroke-width="3.5" />
<g transform="translate(1981,1472) scale(0.25)">
<ellipse cx="300" cy="885" rx="130" ry="148" fill="#000" stroke="#000" stroke-width="14"/>
<path d="M195 758 L380 768 L385 782 L190 775Z M188 812 L392 818 L392 838 L186 832Z M186 872 L392 876 L388 896 L190 892Z M212 938 L372 940 L360 956 L222 954Z" fill="#fff"/>
</g>
<path d="M1981.0 1708.2 C1984.3 1711.0 1993.5 1720.3 2001.0 1724.5 C2008.5 1728.7 2017.7 1731.6 2026.0 1733.2 C2034.3 1734.9 2041.8 1735.5 2051.0 1734.5 C2060.2 1733.5 2071.0 1731.2 2081.0 1727.0 C2091.0 1722.8 2102.2 1715.8 2111.0 1709.5 C2119.8 1703.2 2128.1 1695.3 2133.5 1689.5 C2138.9 1683.7 2143.1 1679.1 2143.5 1674.5 C2143.9 1669.9 2140.6 1665.5 2136.0 1662.0 C2131.4 1658.5 2123.1 1655.3 2116.0 1653.2 C2108.9 1651.2 2097.2 1650.1 2093.5 1649.5" fill="none" stroke="#000" stroke-width="4" />
<path d="M2036.0 1735.8 L2081.0 1729.5" fill="none" stroke="#000" stroke-width="3" />
<path d="M2142.2 1657.0 L2163.5 1714.5" fill="none" stroke="#000" stroke-width="3" />
<path d="M1981.0 1762.0 L2106.0 1763.2 L2193.5 1763.2 L2221.0 1764.0" fill="none" stroke="#000" stroke-width="4" />
<path d="M2221.0 1764.0 C2220.9 1765.0 2220.4 1777.9 2219.8 1779.5 C2219.1 1781.1 2212.6 1787.6 2211.0 1788.2 C2209.4 1788.9 2211.3 1789.1 2196.0 1789.0 C2180.7 1788.9 1995.3 1786.7 1981.0 1786.5" fill="none" stroke="#000" stroke-width="4.5" />
</svg>
</body></html>
